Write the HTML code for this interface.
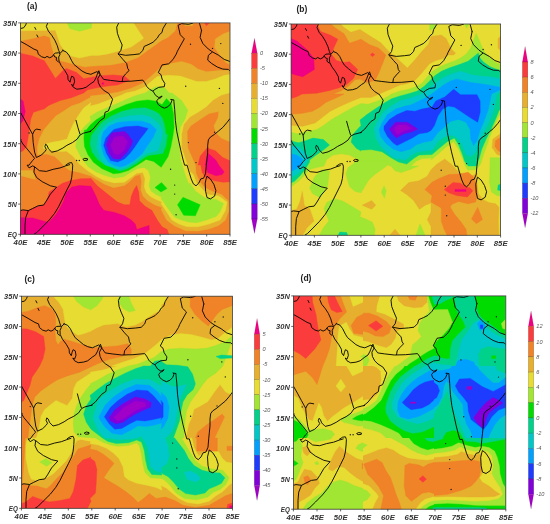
<!DOCTYPE html>
<html><head><meta charset="utf-8"><title>Figure</title>
<style>html,body{margin:0;padding:0;background:#fff}svg{display:block}
text{font-family:"Liberation Sans",sans-serif}.tk{font-size:8px;font-style:italic;font-weight:bold;fill:#333}.pl{font-size:8.5px;font-weight:bold;fill:#222}.cb{font-size:5.6px;font-style:italic;fill:#555}</style></head>
<body><svg width="550" height="524" viewBox="0 0 550 524">
<rect width="550" height="524" fill="#fff"/>
<clipPath id="clipa"><rect x="20.4" y="22.9" width="209.6" height="211.4"/></clipPath>
<g clip-path="url(#clipa)">
<rect x="20.4" y="22.9" width="209.6" height="211.4" fill="#f08228"/>
<polygon points="16.3,52.3 32.7,56.0 44.4,60.8 55.4,78.4 63.0,70.5 66.4,68.4 76.7,72.5 83.6,78.7 99.6,75.7 113.4,74.9 124.4,76.0 129.6,80.4 117.5,84.9 107.9,85.9 98.2,87.6 87.7,89.7 83.6,93.0 71.2,97.8 60.2,100.6 48.5,105.4 44.4,108.8 33.4,112.2 30.7,119.1 28.6,134.2 26.6,146.6 23.1,150.7 16.3,154.1" fill="#fa3c3c" stroke="#fa3c3c" stroke-width="0.4"/>
<polygon points="16.3,209.7 27.2,211.0 32.7,208.3 38.2,206.2 44.4,204.8 47.2,200.0 49.2,191.8 56.8,187.0 63.0,183.1 71.2,180.4 80.8,178.7 91.0,178.5 96.9,185.6 103.7,191.1 110.6,196.6 117.5,202.1 124.4,204.8 129.8,204.8 131.2,196.6 134.0,189.7 136.7,185.6 138.8,192.5 139.5,200.7 145.0,206.2 151.8,210.3 157.3,220.0 162.0,226.8 167.2,229.6 170.6,239.2 78.6,239.2 16.3,239.2" fill="#fa3c3c" stroke="#fa3c3c" stroke-width="0.4"/>
<polygon points="198.1,165.0 200.2,156.2 207.0,148.0 215.3,150.7 222.8,157.6 233.8,162.4 233.8,181.5 222.8,182.2 214.6,180.8 206.3,178.1 202.2,172.6 200.8,165.0" fill="#fa3c3c" stroke="#fa3c3c" stroke-width="0.4"/>
<polygon points="203.6,21.0 211.8,21.0 206.3,25.8" fill="#fa3c3c" stroke="#fa3c3c" stroke-width="0.4"/>
<polygon points="17.6,96.4 23.1,101.2 25.2,111.5 23.1,120.5 17.6,127.4" fill="#f00082" stroke="#f00082" stroke-width="0.4"/>
<polygon points="16.3,217.2 25.9,217.9 32.7,217.9 39.6,220.0 48.5,222.4 55.4,215.2 59.5,209.0 63.7,200.7 66.4,192.5 71.9,187.0 79.5,185.6 91.0,186.3 95.5,195.2 99.6,204.8 103.7,210.3 114.7,212.4 124.4,215.8 131.2,220.0 135.3,224.1 136.7,229.6 145.0,226.8 149.1,225.5 149.4,239.2 16.3,239.2" fill="#f00082" stroke="#f00082" stroke-width="0.4"/>
<polygon points="205.0,165.0 207.0,156.2 208.4,153.5 216.0,160.3 218.7,165.0 224.2,171.9 222.1,174.6 216.0,175.7 207.7,172.6 205.7,165.0" fill="#f00082" stroke="#f00082" stroke-width="0.4"/>
<polygon points="102.1,82.8 103.7,82.8 103.7,84.2 102.1,84.2" fill="#f00082" stroke="#f00082" stroke-width="0.4"/>
<polygon points="16.3,18.3 16.3,41.6 32.7,38.6 44.4,35.4 49.9,37.5 51.3,45.7 54.0,54.0 60.2,60.8 66.4,62.2 76.7,65.0 85.0,67.0 90.0,66.3 110.6,65.0 125.7,62.2 138.1,57.4 147.7,50.5 162.0,40.2 167.9,37.5 175.4,30.6 178.2,18.3" fill="#e6af2d" stroke="#e6af2d" stroke-width="0.4"/>
<polygon points="91.0,97.1 79.5,103.3 71.2,106.1 63.0,111.5 56.1,115.7 49.9,122.5 43.7,130.1 39.6,138.3 37.5,146.6 37.5,154.8 46.5,154.1 54.7,156.5 60.5,161.9 64.6,167.1 70.1,170.5 79.7,172.6 90.7,176.0 97.6,180.2 104.5,184.3 113.4,187.7 124.4,185.6 129.8,181.5 135.3,176.0 140.2,174.6 141.5,181.5 140.8,189.7 142.9,195.9 147.7,200.7 154.6,204.8 162.0,207.6 161.0,209.2 166.5,220.0 174.7,226.1 185.7,230.7 198.1,231.0 209.1,228.9 218.7,225.5 225.6,220.0 229.0,210.3 228.3,200.7 221.5,194.5 213.2,191.8 205.0,187.7 199.5,181.5 196.0,173.2 195.4,165.0 187.8,148.0 187.1,131.5 190.5,126.0 199.5,119.8 209.1,113.6 218.7,111.5 218.0,117.7 213.9,126.0 216.0,132.8 221.5,138.3 233.8,143.2 233.8,69.8 218.7,70.5 206.3,71.8 198.1,69.1 191.2,64.3 181.6,61.5 170.6,63.6 161.0,67.0 156.0,71.7 149.1,77.9 142.2,83.4 131.2,88.2 117.5,92.3 103.7,94.4 90.0,96.0" fill="#e6af2d" stroke="#e6af2d" stroke-width="0.4"/>
<polygon points="16.3,170.5 32.7,170.5 35.5,179.4 27.2,177.4 16.3,174.6" fill="#e6af2d" stroke="#e6af2d" stroke-width="0.4"/>
<polygon points="233.8,29.9 222.8,34.1 215.3,38.9 214.6,47.8 220.1,55.4 225.6,62.2 233.8,67.0" fill="#e6af2d" stroke="#e6af2d" stroke-width="0.4"/>
<polygon points="183.7,21.0 194.0,21.0 192.6,25.8 185.0,25.8" fill="#e6af2d" stroke="#e6af2d" stroke-width="0.4"/>
<polygon points="16.3,18.3 16.3,30.9 55.4,30.3 60.2,44.4 64.3,50.5 71.2,56.0 79.5,58.1 91.0,55.4 98.2,55.4 107.9,54.0 120.2,50.5 131.2,47.1 143.6,38.2 138.1,29.9 130.5,18.3" fill="#e6dc32" stroke="#e6dc32" stroke-width="0.4"/>
<polygon points="91.0,102.6 83.6,108.1 78.1,115.7 73.3,123.9 69.8,131.5 67.1,139.0 58.8,141.1 50.6,142.5 44.4,144.5 43.0,148.0 47.9,150.0 58.8,151.4 66.7,151.3 73.5,156.8 79.0,163.7 87.3,170.5 95.5,176.0 103.8,180.2 114.1,182.9 124.4,182.2 131.2,177.4 136.7,173.2 142.9,172.6 145.0,178.7 144.3,187.0 146.3,192.5 150.5,196.6 156.0,199.4 162.0,202.1 161.0,203.5 166.5,211.7 172.0,220.0 178.9,224.1 187.1,226.8 198.1,226.8 209.1,224.1 220.1,220.0 225.6,210.3 227.0,202.1 218.7,195.9 207.7,194.5 202.2,189.0 196.7,182.9 193.3,174.6 190.1,171.7 186.0,160.7 181.6,148.0 181.6,134.2 183.7,124.6 189.9,117.0 198.1,112.2 206.3,106.7 213.2,99.9 221.5,95.1 233.8,91.6 233.8,73.9 224.2,75.3 216.0,78.7 206.3,81.5 196.7,81.5 188.5,78.7 180.2,76.0 167.9,75.3 161.0,76.0 157.3,76.5 150.5,82.0 145.0,86.8 135.3,90.9 125.7,93.0 121.6,95.1 110.6,99.2 98.2,104.0 90.0,106.1" fill="#e6dc32" stroke="#e6dc32" stroke-width="0.4"/>
<polygon points="65.0,18.3 91.0,18.3 92.1,18.3 91.4,27.9 79.5,31.3 69.8,28.6" fill="#a0e632" stroke="#a0e632" stroke-width="0.4"/>
<polygon points="91.0,120.5 85.0,126.0 79.7,132.8 77.0,138.2 75.6,146.5 81.1,157.5 88.0,166.4 96.2,171.9 104.5,175.3 114.1,178.1 123.7,176.7 131.2,171.9 137.4,168.4 144.3,167.5 148.4,170.5 150.5,177.4 149.1,185.6 151.1,191.1 156.0,194.5 162.0,197.3 161.0,198.4 163.7,202.1 169.2,210.3 174.7,217.2 181.6,220.0 188.5,222.0 196.7,222.7 206.3,220.0 216.0,216.5 220.1,211.7 223.5,203.5 216.0,199.4 205.0,198.0 195.4,191.1 189.9,182.9 188.7,184.1 184.6,173.1 180.5,159.4 178.6,141.1 180.2,127.4 185.0,119.1 187.8,110.2 181.6,100.6 172.0,93.0 169.2,93.0 165.1,88.3 161.0,87.0 156.0,86.8 150.5,89.6 145.0,93.0 135.3,95.7 128.5,98.5 117.5,103.3 106.5,108.1 96.9,112.2 90.0,116.4" fill="#a0e632" stroke="#a0e632" stroke-width="0.4"/>
<polygon points="90.0,125.3 96.2,119.8 105.1,114.3 114.7,109.5 125.7,104.7 136.7,101.2 147.7,99.9 156.0,101.2 162.0,104.7 166.5,98.5 171.3,104.0 173.4,113.6 174.1,127.4 172.9,136.0 170.8,147.0 168.1,156.6 161.2,167.3 153.7,161.4 146.1,159.4 137.9,164.8 128.2,170.6 120.0,173.1 113.4,173.7 101.7,168.5 93.5,162.3 88.0,154.7 84.5,146.5 83.9,138.2 84.5,130.0 86.3,130.1" fill="#00dc00" stroke="#00dc00" stroke-width="0.4"/>
<polygon points="155.0,187.5 161.5,182.5 167.0,188.5 161.0,192.0" fill="#00dc00" stroke="#00dc00" stroke-width="0.4"/>
<polygon points="183.0,197.3 200.2,204.8 195.4,215.8 183.7,215.2 177.5,204.8" fill="#00dc00" stroke="#00dc00" stroke-width="0.4"/>
<polygon points="91.4,135.5 95.5,130.1 101.7,122.5 110.6,116.4 121.6,111.5 134.0,108.4 145.0,107.8 152.5,110.2 158.7,113.6 162.0,117.7 164.4,124.6 165.8,134.2 167.4,134.6 166.0,145.6 162.9,153.4 148.2,155.5 144.0,158.0 136.5,163.5 127.6,168.7 120.0,171.0 114.1,168.5 104.5,164.4 97.6,159.5 92.1,152.0 90.0,143.7" fill="#00d28c" stroke="#00d28c" stroke-width="0.4"/>
<polygon points="98.2,135.6 102.4,128.0 107.9,123.2 117.5,118.4 129.8,115.7 142.2,115.0 150.5,117.0 157.3,122.5 159.8,125.0 162.6,131.9 161.2,141.5 157.8,150.4 147.5,153.2 142.7,155.9 135.1,161.8 126.9,166.9 120.0,169.2 105.1,165.0 100.3,157.6 96.9,148.0" fill="#00c8c8" stroke="#00c8c8" stroke-width="0.4"/>
<polygon points="103.7,131.5 109.2,126.0 117.5,122.5 129.8,121.2 142.2,121.2 150.5,123.9 151.6,125.0 156.4,129.8 153.0,137.4 147.5,145.6 142.0,153.9 133.7,160.7 125.5,165.5 120.0,166.9 113.4,165.0 107.9,161.7 103.7,154.8 101.0,145.2 101.7,137.0" fill="#00a0ff" stroke="#00a0ff" stroke-width="0.4"/>
<polygon points="114.0,129.4 125.0,126.7 138.1,126.0 148.0,128.4 145.0,132.8 139.5,139.7 134.0,148.0 129.8,153.5 124.4,159.0 117.5,162.0 110.6,160.6 106.5,153.5 103.7,145.2 105.8,138.3 110.6,132.8" fill="#1e3cff" stroke="#1e3cff" stroke-width="0.4"/>
<polygon points="112.0,132.8 124.4,131.5 127.8,134.2 132.6,141.1 131.2,145.2 127.1,152.1 120.2,159.0 113.4,158.7 109.2,153.5 106.5,144.5 109.2,137.0" fill="#8200dc" stroke="#8200dc" stroke-width="0.4"/>
<polygon points="114.7,137.0 123.0,135.9 127.8,141.8 123.7,150.7 118.2,154.8 114.0,153.5 110.6,145.2" fill="#a000c8" stroke="#a000c8" stroke-width="0.4"/>
</g>
<clipPath id="clipb"><rect x="291.1" y="24" width="209.5" height="211.3"/></clipPath>
<g clip-path="url(#clipb)">
<rect x="291.1" y="24" width="209.5" height="211.3" fill="#e6dc32"/>
<polygon points="286.3,11.6 286.3,124.9 302.7,126.3 315.1,122.9 320.6,118.7 330.2,111.2 339.8,106.4 350.8,101.6 361.0,97.4 371.0,97.4 379.2,94.0 390.2,89.3 400.0,84.9 406.4,83.8 414.1,81.2 418.5,76.8 425.1,69.1 429.4,63.8 435.9,60.5 443.6,58.3 448.0,55.0 453.7,55.0 455.5,52.9 451.6,49.5 449.5,45.4 446.1,38.5 441.3,35.1 431.0,36.4 428.7,44.0 421.8,51.5 415.0,59.8 407.4,68.0 397.1,58.4 388.9,51.5 380.6,42.6 369.6,35.7 360.0,29.6 350.8,32.3 344.0,27.5 336.4,19.3" fill="#e6af2d" stroke="#e6af2d" stroke-width="0.4"/>
<polygon points="286.3,19.3 325.4,19.3 335.7,28.2 344.0,33.7 349.5,43.3 361.0,39.2 369.6,44.7 378.5,48.1 385.8,55.0 382.7,63.2 378.5,73.5 375.1,80.4 366.9,82.5 360.0,79.0 355.0,79.7 348.1,86.6 341.2,90.7 333.0,94.0 344.0,94.0 335.7,98.1 326.1,102.2 319.9,107.1 312.4,111.2 302.7,113.2 286.3,114.6" fill="#f08228" stroke="#f08228" stroke-width="0.4"/>
<polygon points="286.3,19.3 314.4,19.3 320.6,31.6 330.2,35.1 337.8,39.2 333.7,48.1 331.3,54.3 336.4,60.5 344.0,62.5 349.5,61.8 357.7,69.4 353.6,78.3 346.7,84.5 338.5,88.0 328.8,90.7 316.5,93.2 302.1,94.0 296.6,96.7 286.3,100.2" fill="#fa3c3c" stroke="#fa3c3c" stroke-width="0.4"/>
<polygon points="286.3,36.4 297.2,41.2 307.5,50.2 313.7,58.4 314.4,69.4 302.7,76.7 295.9,74.9 286.3,72.2" fill="#f00082" stroke="#f00082" stroke-width="0.4"/>
<polygon points="370.3,54.7 372.4,52.9 374.8,54.7 372.4,56.6" fill="#fa3c3c" stroke="#fa3c3c" stroke-width="0.4"/>
<polygon points="400.5,190.5 408.8,182.5 419.1,180.8 427.3,176.3 431.0,169.8 436.5,164.4 444.7,159.1 451.6,164.4 457.8,171.2 464.7,175.3 472.2,175.8 477.0,173.3 477.0,182.5 478.4,193.5 483.2,199.7 488.7,202.4 495.6,203.8 499.0,207.2 498.3,221.0 499.0,240.2 431.0,240.2 431.0,226.5 427.3,219.6 431.0,212.0 431.0,203.1 425.3,205.2 419.4,209.3 413.6,200.4 406.7,194.6" fill="#e6af2d" stroke="#e6af2d" stroke-width="0.4"/>
<polygon points="362.1,205.2 371.7,200.4 375.8,205.2 371.7,209.3" fill="#e6af2d" stroke="#e6af2d" stroke-width="0.4"/>
<polygon points="385.4,240.2 395.0,229.2 404.0,240.2" fill="#e6af2d" stroke="#e6af2d" stroke-width="0.4"/>
<polygon points="286.3,212.0 296.6,209.3 300.0,201.7 302.3,191.4 304.4,205.8 309.6,208.6 314.0,221.0 306.9,227.8 300.0,240.2 286.3,240.2" fill="#e6af2d" stroke="#e6af2d" stroke-width="0.4"/>
<polygon points="503.8,33.7 498.1,38.5 498.1,48.1 503.8,54.3" fill="#e6af2d" stroke="#e6af2d" stroke-width="0.4"/>
<polygon points="503.8,131.1 492.8,139.3 492.1,147.6 497.0,154.5 503.8,156.5" fill="#e6af2d" stroke="#e6af2d" stroke-width="0.4"/>
<polygon points="503.8,135.2 495.6,140.7 494.9,146.2 498.3,151.0 503.8,152.4" fill="#f08228" stroke="#f08228" stroke-width="0.4"/>
<polygon points="424.9,189.6 432.0,182.2 439.2,178.4 448.9,174.5 459.9,174.0 468.1,172.2 472.9,176.3 476.3,183.9 477.4,193.5 475.7,202.0 468.1,203.8 458.5,201.4 451.6,204.5 450.2,207.2 454.4,214.1 461.2,222.3 466.0,229.2 467.8,240.2 449.5,240.2 444.1,229.2 441.3,221.0 441.3,207.9 436.5,205.2 431.0,202.0 432.0,195.5" fill="#f08228" stroke="#f08228" stroke-width="0.4"/>
<polygon points="477.7,207.2 482.5,219.6 476.3,223.7 471.5,218.9" fill="#f08228" stroke="#f08228" stroke-width="0.4"/>
<polygon points="444.1,189.6 453.0,182.5 460.5,183.2 465.4,186.6 470.2,188.0 472.9,190.7 467.4,196.9 456.4,195.5 448.9,192.8" fill="#fa3c3c" stroke="#fa3c3c" stroke-width="0.4"/>
<polygon points="455.0,189.4 466.0,189.4 466.0,191.4 455.0,191.4" fill="#f00082" stroke="#f00082" stroke-width="0.4"/>
<polygon points="286.3,131.1 297.2,133.8 306.9,131.8 316.5,129.7 323.4,125.6 331.6,119.4 342.6,113.2 352.2,107.7 361.0,103.6 368.2,104.3 377.9,100.9 387.5,96.7 391.6,94.0 400.0,91.0 408.6,89.3 416.3,86.6 421.8,83.4 427.3,76.8 432.6,71.3 439.2,66.9 446.9,63.8 454.5,61.0 460.5,58.0 466.0,54.3 470.8,48.1 473.6,39.9 476.1,33.3 479.1,39.9 482.1,47.4 485.3,52.9 491.5,59.1 497.0,63.2 503.8,64.9 503.8,107.7 497.0,120.1 492.8,129.7 488.7,139.3 488.0,142.4 483.9,153.4 480.7,163.7 476.3,169.6 467.8,170.1 465.4,166.0 462.6,158.6 458.5,149.0 453.7,141.4 446.1,146.9 439.2,153.1 431.0,160.0 432.0,157.9 421.8,158.6 416.3,161.3 410.8,166.0 418.4,166.0 410.2,169.4 401.2,172.6 395.0,170.8 390.9,166.0 390.2,166.0 384.7,164.1 373.7,162.0 360.0,162.7 356.3,158.6 349.5,155.1 341.2,153.8 333.0,155.1 326.8,159.3 324.0,166.0 316.5,167.5 309.6,169.5 304.1,175.7 298.6,181.2 286.3,190.2" fill="#a0e632" stroke="#a0e632" stroke-width="0.4"/>
<polygon points="309.6,188.1 314.4,177.1 322.0,169.5 329.5,170.9 327.5,186.7 319.9,197.7 312.4,193.6" fill="#a0e632" stroke="#a0e632" stroke-width="0.4"/>
<polygon points="353.6,163.6 348.1,167.5 346.0,173.7 346.7,177.0 349.5,186.6 355.0,191.4 361.0,192.8 364.8,186.6 368.9,179.7 375.1,174.2 384.0,168.1 386.8,166.0 386.8,161.3 354.5,161.3" fill="#a0e632" stroke="#a0e632" stroke-width="0.4"/>
<polygon points="316.5,240.2 323.4,227.8 328.8,221.0 324.0,208.6 326.8,202.4 334.3,198.7 342.6,201.0 350.8,205.8 361.0,212.0 360.0,216.8 365.5,218.9 372.4,222.3 375.1,229.2 373.7,240.2" fill="#a0e632" stroke="#a0e632" stroke-width="0.4"/>
<polygon points="384.0,185.9 386.1,190.7 384.5,198.3 381.3,192.1" fill="#a0e632" stroke="#a0e632" stroke-width="0.4"/>
<polygon points="414.3,240.2 420.0,224.0 427.3,240.2" fill="#a0e632" stroke="#a0e632" stroke-width="0.4"/>
<polygon points="490.1,157.8 503.8,157.8 503.8,196.2 497.0,195.5 491.5,192.1 489.4,182.5 489.8,172.9" fill="#a0e632" stroke="#a0e632" stroke-width="0.4"/>
<polygon points="429.6,19.3 437.2,19.3 435.1,28.2 429.6,30.2" fill="#a0e632" stroke="#a0e632" stroke-width="0.4"/>
<polygon points="463.3,22.0 470.2,22.0 466.7,28.2" fill="#a0e632" stroke="#a0e632" stroke-width="0.4"/>
<polygon points="503.8,71.1 497.0,69.4 490.1,66.7 483.2,61.8 479.8,57.7 478.4,52.9 475.0,55.7 468.1,61.2 460.0,64.3 449.1,68.0 441.4,71.3 434.8,75.7 429.4,81.2 424.0,86.6 417.4,91.0 408.6,93.7 400.0,95.9 391.6,98.8 383.4,103.6 375.1,109.1 366.9,114.6 360.0,120.1 361.0,125.6 357.7,129.0 352.9,134.5 351.1,142.1 356.3,148.3 361.0,151.0 360.0,150.3 371.0,149.6 382.0,151.7 390.2,157.2 398.5,162.0 406.7,164.1 413.6,158.6 419.1,155.1 432.0,154.5 439.2,148.3 447.5,141.4 454.4,138.0 458.5,144.8 461.9,153.1 464.7,161.3 468.1,166.0 476.3,166.0 479.1,158.6 481.8,149.0 486.0,139.3 491.5,128.4 496.3,117.4 499.0,110.5 503.8,106.4" fill="#00d28c" stroke="#00d28c" stroke-width="0.4"/>
<polygon points="286.3,140.0 298.6,142.8 305.5,140.7 313.0,138.0 323.4,139.6 329.5,145.1 322.0,151.0 315.1,155.8 309.6,160.0 309.6,162.0 305.5,168.9 300.0,175.7 294.5,181.2 286.3,185.3" fill="#00d28c" stroke="#00d28c" stroke-width="0.4"/>
<polygon points="335.7,240.2 339.8,232.0 346.7,232.6 349.5,240.2" fill="#00d28c" stroke="#00d28c" stroke-width="0.4"/>
<polygon points="503.8,182.5 498.1,185.2 497.6,190.0 503.8,191.4" fill="#00d28c" stroke="#00d28c" stroke-width="0.4"/>
<polygon points="503.8,79.7 491.5,77.0 481.8,76.3 472.2,74.9 465.4,72.8 460.0,71.3 454.5,73.0 446.9,75.7 440.3,79.6 433.7,84.4 427.3,89.9 419.6,94.8 410.8,98.1 400.0,100.7 391.6,105.7 383.4,111.9 377.9,120.8 374.4,128.4 375.8,138.0 380.6,146.2 387.5,153.1 394.4,157.9 405.3,160.0 412.2,154.5 417.7,151.7 432.0,150.3 437.9,141.4 446.1,135.9 453.0,135.2 458.5,139.3 462.6,146.2 466.0,154.5 470.8,156.5 476.3,151.7 479.1,142.1 483.2,133.8 488.7,122.9 492.8,113.2 495.6,102.2 497.0,94.0 503.8,91.3" fill="#00c8c8" stroke="#00c8c8" stroke-width="0.4"/>
<polygon points="286.3,145.5 298.6,146.9 305.5,153.1 308.2,159.2 304.1,166.1 298.6,173.0 286.3,180.5" fill="#00c8c8" stroke="#00c8c8" stroke-width="0.4"/>
<polygon points="503.8,88.0 490.1,85.2 480.5,83.8 470.8,82.5 462.6,80.4 456.7,79.0 450.2,81.2 443.6,84.9 437.0,89.9 430.5,94.8 421.8,99.8 410.8,105.0 405.3,106.1 395.7,109.1 387.5,114.6 382.0,122.9 379.2,129.7 380.6,136.6 386.1,143.5 393.0,149.0 401.2,151.7 410.8,149.0 416.3,144.8 424.6,142.1 432.0,140.7 437.9,132.5 444.7,127.0 450.2,121.5 458.5,119.4 466.0,122.2 470.2,129.7 470.8,139.3 473.6,145.5 477.0,140.7 479.8,131.1 483.9,121.5 488.0,110.5 490.1,100.9 491.5,94.0" fill="#00a0ff" stroke="#00a0ff" stroke-width="0.4"/>
<polygon points="286.3,153.1 296.6,155.1 302.7,159.2 301.4,164.0 296.6,168.9 286.3,173.0" fill="#00a0ff" stroke="#00a0ff" stroke-width="0.4"/>
<polygon points="384.0,126.3 389.5,119.4 397.1,114.6 406.7,110.5 415.0,111.2 421.8,109.1 432.0,107.1 435.8,100.9 444.7,97.0 453.7,89.3 460.5,94.7 477.0,94.7 480.1,100.9 480.2,111.9 477.7,122.2 470.8,118.0 462.6,112.5 454.4,107.1 448.2,106.1 442.7,109.1 437.9,116.0 434.4,125.6 431.0,130.4 427.3,132.5 419.1,133.8 412.2,138.0 404.0,142.1 397.1,145.5 393.0,142.8 387.5,136.6 384.0,129.7" fill="#1e3cff" stroke="#1e3cff" stroke-width="0.4"/>
<polygon points="389.5,129.0 395.7,122.2 407.4,122.2 417.7,129.0 412.2,131.8 404.0,133.8 396.4,138.0 392.3,133.8" fill="#8200dc" stroke="#8200dc" stroke-width="0.4"/>
<polygon points="394.4,128.4 397.8,124.9 406.0,124.9 411.5,128.6 404.0,131.1 397.1,134.5" fill="#a000c8" stroke="#a000c8" stroke-width="0.4"/>
</g>
<clipPath id="clipc"><rect x="21.4" y="296.2" width="211.1" height="212.10000000000002"/></clipPath>
<g clip-path="url(#clipc)">
<rect x="21.4" y="296.2" width="211.1" height="212.10000000000002" fill="#e6af2d"/>
<polygon points="16.3,313.2 28.6,311.2 36.9,307.7 44.4,305.7 51.3,308.4 55.0,313.2 55.8,321.5 55.0,332.5 55.8,340.7 58.2,345.1 60.2,341.4 64.3,339.3 74.0,342.1 82.2,344.8 91.0,346.9 90.0,348.3 103.7,346.9 117.5,345.9 127.8,343.7 131.2,349.0 131.2,353.4 121.6,356.5 109.2,359.3 98.2,363.4 79.5,372.2 67.1,375.9 57.5,379.7 49.9,384.5 41.0,390.7 34.8,396.9 32.1,405.8 30.7,415.5 29.3,426.5 27.9,438.0 25.2,438.0 24.5,451.7 23.1,472.4 22.4,483.3 27.2,485.4 36.9,486.1 46.5,488.8 50.6,485.4 56.1,479.2 63.0,472.4 68.5,464.1 74.0,455.9 78.1,449.0 91.0,444.9 90.0,449.0 96.9,450.4 103.7,454.5 110.6,460.0 114.0,463.4 109.2,469.6 103.7,477.8 110.6,482.0 117.5,486.1 125.7,491.6 132.6,497.1 138.1,502.6 143.6,498.5 149.4,493.6 156.0,498.5 165.1,497.1 174.7,500.5 183.0,505.3 195.4,507.4 209.1,505.3 218.7,499.8 225.6,495.7 233.8,493.0 233.8,512.2 16.3,512.2" fill="#f08228" stroke="#f08228" stroke-width="0.4"/>
<polygon points="190.5,291.3 190.1,306.4 194.7,313.9 201.5,320.8 208.4,325.9 212.1,320.8 216.6,314.6 222.1,309.4 233.8,305.0 233.8,291.3" fill="#f08228" stroke="#f08228" stroke-width="0.4"/>
<polygon points="222.1,414.1 224.5,417.1 219.4,427.8 214.6,438.0 217.3,438.0 217.3,451.1 196.7,451.1 196.7,438.0 195.4,438.0 197.8,432.0 206.3,425.1 215.3,418.9" fill="#f08228" stroke="#f08228" stroke-width="0.4"/>
<polygon points="227.0,446.2 233.8,446.2 233.8,450.4 227.0,450.4" fill="#f08228" stroke="#f08228" stroke-width="0.4"/>
<polygon points="16.3,328.4 27.2,329.0 35.5,331.8 43.7,336.6 45.1,349.0 43.0,358.6 39.6,366.0 35.5,372.2 32.1,377.0 30.0,385.2 26.6,393.5 23.8,400.4 16.3,405.8" fill="#fa3c3c" stroke="#fa3c3c" stroke-width="0.4"/>
<polygon points="16.3,505.3 25.9,501.9 32.7,496.4 39.6,499.1 49.2,501.9 60.2,500.5 69.8,498.5 73.3,491.6 76.0,479.2 77.4,465.5 82.9,460.0 91.0,457.2 90.0,457.9 94.8,461.4 96.9,469.6 96.2,483.3 95.5,493.0 90.0,498.5 91.0,501.2 85.6,512.2 16.3,512.2" fill="#fa3c3c" stroke="#fa3c3c" stroke-width="0.4"/>
<polygon points="227.6,504.6 233.8,502.6 233.8,512.2 226.3,512.2" fill="#fa3c3c" stroke="#fa3c3c" stroke-width="0.4"/>
<polygon points="229.7,506.3 233.8,505.3 233.8,512.2 230.1,512.2" fill="#f00082" stroke="#f00082" stroke-width="0.4"/>
<polygon points="48.5,291.3 58.8,302.2 63.0,309.1 64.3,317.4 65.7,325.6 71.2,331.1 78.1,335.2 83.6,333.8 91.0,331.1 90.0,331.4 96.9,327.7 103.7,324.9 117.5,323.5 125.7,327.0 135.3,324.9 142.2,321.5 147.7,317.4 154.6,313.2 162.0,309.4 161.0,305.0 165.1,302.2 168.6,291.3" fill="#e6dc32" stroke="#e6dc32" stroke-width="0.4"/>
<polygon points="91.0,372.9 83.6,377.7 76.7,382.2 73.7,388.7 72.3,398.3 67.1,405.4 60.2,402.4 56.1,400.4 49.9,405.2 44.4,409.7 41.0,416.2 39.6,425.1 38.2,432.0 36.2,438.0 29.3,438.0 26.6,440.7 25.9,446.2 25.9,458.6 28.6,472.4 31.4,479.2 36.9,480.6 46.5,477.8 53.4,473.7 58.8,468.2 65.7,461.4 71.2,453.1 74.0,446.2 76.7,440.7 80.8,439.4 91.0,441.4 90.0,443.5 98.2,444.9 106.5,448.3 113.4,453.1 118.9,458.6 123.0,466.9 124.4,476.5 128.5,479.9 136.7,483.3 147.7,485.4 156.0,487.5 162.0,490.2 161.0,485.4 166.5,488.2 172.0,493.0 178.9,498.5 187.1,502.6 198.1,504.0 209.1,501.2 216.0,495.7 222.8,491.6 229.7,484.7 233.8,482.0 233.8,463.4 226.3,462.0 222.1,457.9 218.7,451.7 207.0,451.7 203.6,453.1 198.8,455.9 194.0,447.6 191.9,438.0 186.4,438.0 187.1,432.0 188.5,424.4 191.9,417.5 194.0,409.3 199.5,406.5 207.7,401.7 213.9,392.8 220.1,384.5 225.6,392.1 233.8,395.5 233.8,326.3 224.2,333.2 218.7,338.0 211.8,340.0 202.2,337.3 191.2,334.5 180.2,333.6 170.6,335.2 161.0,340.0 156.0,344.8 149.1,350.3 143.6,354.5 134.0,358.6 123.0,362.0 112.0,366.0 117.5,366.0 102.4,370.1 90.0,372.2" fill="#e6dc32" stroke="#e6dc32" stroke-width="0.4"/>
<polygon points="70.5,291.3 76.7,301.6 83.6,307.1 91.0,309.8 90.0,310.2 96.9,305.7 102.4,298.8 103.7,291.3" fill="#a0e632" stroke="#a0e632" stroke-width="0.4"/>
<polygon points="118.9,291.3 127.1,291.3 131.2,302.9 135.3,310.5 129.2,312.1 123.0,308.4 119.1,302.2" fill="#a0e632" stroke="#a0e632" stroke-width="0.4"/>
<polygon points="39.6,462.0 45.8,458.6 52.0,462.7 46.5,466.2" fill="#a0e632" stroke="#a0e632" stroke-width="0.4"/>
<polygon points="91.0,383.9 86.3,389.4 80.8,397.6 76.7,405.8 74.0,414.1 73.3,423.7 74.0,432.0 78.1,436.8 95.5,438.0 102.4,442.1 110.6,444.9 117.5,446.2 128.5,445.6 136.7,442.8 139.5,446.2 141.5,454.5 142.9,464.1 145.0,472.4 150.5,477.8 162.0,478.5 161.0,477.8 165.1,480.6 170.6,486.1 176.1,493.0 184.4,498.5 196.7,499.8 207.7,497.1 213.2,492.3 220.1,489.5 225.6,484.7 229.0,477.8 222.8,470.3 211.8,468.9 202.2,466.2 195.4,460.7 190.5,453.1 185.7,444.9 181.6,438.0 183.7,438.0 184.4,430.6 185.0,421.0 186.4,411.3 190.5,401.7 196.7,393.5 202.2,385.2 207.7,378.4 216.0,372.9 222.8,366.0 227.0,354.5 233.8,335.2 224.2,342.1 216.0,345.5 206.3,348.3 195.4,349.0 181.6,348.3 169.2,349.0 161.0,351.7 154.6,357.2 147.7,360.0 138.1,364.1 128.5,366.0 118.9,369.4 107.9,374.2 98.2,379.7 90.0,383.9" fill="#a0e632" stroke="#a0e632" stroke-width="0.4"/>
<polygon points="83.6,414.1 86.3,405.8 91.0,399.0 90.0,395.5 96.9,390.0 105.1,383.9 114.7,378.4 125.7,372.9 135.3,368.7 143.6,366.0 150.5,366.0 154.6,361.3 162.0,360.0 161.0,361.3 166.5,364.8 177.5,365.3 187.8,366.7 192.6,374.2 195.4,383.9 193.3,389.4 187.1,394.9 183.0,401.7 180.9,411.3 179.5,421.0 176.1,430.6 173.4,438.0 174.7,438.0 178.9,443.5 184.4,450.4 188.5,458.6 194.0,465.5 202.2,470.3 211.8,472.4 220.1,473.0 224.9,477.8 221.5,483.3 216.0,486.1 209.1,488.8 205.0,493.0 195.4,495.0 185.7,493.6 178.9,488.8 173.4,482.0 167.9,476.5 161.0,473.0 162.0,475.1 151.8,474.4 147.7,468.9 145.6,460.0 144.3,450.4 141.5,442.1 136.7,440.1 128.5,442.8 116.1,443.5 107.9,441.4 102.4,438.0 91.0,429.2 86.3,422.3" fill="#00d28c" stroke="#00d28c" stroke-width="0.4"/>
<polygon points="216.0,356.5 221.5,355.1 233.8,355.8 233.8,357.9 220.1,358.6" fill="#00d28c" stroke="#00d28c" stroke-width="0.4"/>
<polygon points="93.4,416.8 98.2,400.4 107.9,392.1 121.6,383.9 135.3,379.1 150.5,379.7 162.0,386.6 161.0,381.1 172.0,386.6 178.9,386.6 186.4,384.5 181.6,394.9 178.2,403.1 176.8,414.1 174.7,425.1 170.6,433.3 165.1,438.0 165.1,438.0 167.9,446.2 169.2,455.9 166.5,464.1 161.0,467.5 162.0,472.1 155.3,471.0 150.5,466.2 149.1,457.2 147.7,447.6 144.3,440.7 141.1,435.9 137.4,438.0 129.8,439.1 117.5,439.6 107.9,438.0 105.1,438.0 98.2,430.6 94.1,421.0" fill="#00c8c8" stroke="#00c8c8" stroke-width="0.4"/>
<polygon points="184.4,472.4 190.5,471.0 198.1,475.1 200.2,479.2 195.4,482.0 187.1,479.2" fill="#00c8c8" stroke="#00c8c8" stroke-width="0.4"/>
<polygon points="98.9,416.8 105.1,405.2 113.4,396.9 124.4,389.4 136.0,384.5 149.1,385.2 157.3,391.4 162.0,396.9 161.0,392.1 166.5,397.6 169.2,407.2 167.9,418.2 163.7,426.5 161.0,429.2 162.0,423.0 154.6,425.1 146.3,426.5 138.1,425.8 131.2,429.9 121.6,434.7 112.0,433.3 104.4,426.5 99.6,418.9" fill="#00a0ff" stroke="#00a0ff" stroke-width="0.4"/>
<polygon points="104.4,416.8 110.6,407.2 117.5,401.0 127.1,394.2 136.7,390.0 147.7,390.7 153.2,395.5 158.7,401.7 162.0,405.8 161.0,400.4 163.1,403.1 163.1,416.8 161.0,419.6 162.0,417.5 153.2,419.6 145.0,421.0 136.7,420.3 129.8,423.7 121.6,428.5 114.7,429.2 109.2,423.7" fill="#1e3cff" stroke="#1e3cff" stroke-width="0.4"/>
<polygon points="109.2,417.5 114.7,410.0 123.0,403.8 135.3,396.9 145.0,399.0 151.1,402.4 150.5,407.2 142.2,410.7 135.3,414.1 128.5,418.2 123.0,422.3 116.1,423.7 110.6,421.0" fill="#8200dc" stroke="#8200dc" stroke-width="0.4"/>
<polygon points="114.0,417.5 124.4,407.2 135.3,401.0 145.0,402.4 146.3,405.8 135.3,410.7 124.4,418.2 117.5,421.0" fill="#a000c8" stroke="#a000c8" stroke-width="0.4"/>
</g>
<clipPath id="clipd0"><rect x="293.4" y="295.9" width="70.60" height="70.10"/></clipPath>
<g clip-path="url(#clipd0)">
<rect x="293.4" y="295.9" width="70.60" height="70.10" fill="#f08228"/>
<polygon points="289.3,291.3 311.9,291.3 312.6,302.2 316.0,314.6 318.1,328.4 320.9,340.0 314.7,349.0 305.7,358.6 299.6,353.8 289.3,348.3" fill="#fa3c3c" stroke="#fa3c3c" stroke-width="0.4"/>
<polygon points="327.0,291.3 332.5,291.3 338.0,303.6 342.2,311.6 336.7,312.5 331.2,309.8 328.4,302.2" fill="#fa3c3c" stroke="#fa3c3c" stroke-width="0.4"/>
<polygon points="339.4,291.3 344.2,305.0 347.0,311.9 340.1,318.7 334.6,327.0 331.8,338.0 329.8,349.0 326.4,358.6 322.2,368.2 366.2,368.2 366.2,291.3" fill="#e6af2d" stroke="#e6af2d" stroke-width="0.4"/>
<polygon points="348.3,291.3 353.1,306.4 366.2,300.9 366.2,291.3" fill="#e6dc32" stroke="#e6dc32" stroke-width="0.4"/>
<polygon points="366.2,312.5 356.6,317.4 351.1,325.6 353.8,333.2 366.2,334.8" fill="#f08228" stroke="#f08228" stroke-width="0.4"/>
<polygon points="339.4,326.3 346.3,322.2 349.7,329.0 353.8,335.2 366.2,338.2 366.2,368.2 336.0,368.2 337.3,349.0 338.0,335.2" fill="#e6dc32" stroke="#e6dc32" stroke-width="0.4"/>
<polygon points="366.2,353.1 360.7,356.5 366.2,359.3" fill="#a0e632" stroke="#a0e632" stroke-width="0.4"/>
</g>
<clipPath id="clipd1"><rect x="363" y="295.9" width="72.00" height="70.10"/></clipPath>
<g clip-path="url(#clipd1)">
<rect x="363" y="295.9" width="72.00" height="70.10" fill="#e6dc32"/>
<polygon points="360.3,291.3 380.9,291.3 376.7,305.7 376.1,311.9 385.0,314.6 394.6,319.4 403.5,324.2 403.5,327.7 396.7,331.1 395.3,338.0 391.2,344.2 386.4,347.6 376.7,344.8 368.5,341.4 360.3,340.0" fill="#e6af2d" stroke="#e6af2d" stroke-width="0.4"/>
<polygon points="360.3,313.2 369.2,313.2 377.4,316.0 386.4,321.5 391.2,327.0 389.1,333.2 382.9,336.6 375.4,335.9 368.5,332.5 360.3,330.4" fill="#f08228" stroke="#f08228" stroke-width="0.4"/>
<polygon points="368.5,325.6 376.1,320.8 382.9,326.3 376.1,331.1" fill="#fa3c3c" stroke="#fa3c3c" stroke-width="0.4"/>
<polygon points="395.3,291.3 398.7,300.9 404.2,305.7 413.8,307.7 422.1,307.1 426.9,302.2 427.6,291.3" fill="#e6af2d" stroke="#e6af2d" stroke-width="0.4"/>
<polygon points="405.6,291.3 409.7,299.5 415.2,300.2 419.3,291.3" fill="#f08228" stroke="#f08228" stroke-width="0.4"/>
<polygon points="426.5,291.3 427.9,302.2 429.6,311.2 424.1,316.7 419.6,323.5 418.0,330.4 421.4,336.6 416.6,341.4 412.5,344.8 411.4,350.3 410.4,356.1 404.2,360.5 396.7,366.0 393.2,368.9 437.2,368.9 437.2,291.3" fill="#a0e632" stroke="#a0e632" stroke-width="0.4"/>
<polygon points="427.3,291.3 430.6,302.2 433.3,308.4 437.2,309.1 437.2,291.3" fill="#00dc00" stroke="#00dc00" stroke-width="0.4"/>
<polygon points="430.3,291.3 434.4,304.3 437.2,304.7 437.2,291.3" fill="#00d28c" stroke="#00d28c" stroke-width="0.4"/>
<polygon points="437.2,346.9 427.6,352.0 422.1,355.4 416.6,359.5 409.7,363.7 404.2,368.9 437.2,368.9" fill="#00dc00" stroke="#00dc00" stroke-width="0.4"/>
<polygon points="437.2,354.5 431.7,356.8 426.2,359.5 420.7,363.0 413.8,367.1 411.8,368.9 437.2,368.9" fill="#00d28c" stroke="#00d28c" stroke-width="0.4"/>
<polygon points="437.2,361.3 430.3,363.7 423.5,367.5 422.1,368.9 437.2,368.9" fill="#00c8c8" stroke="#00c8c8" stroke-width="0.4"/>
<polygon points="360.3,353.1 367.1,355.8 369.2,360.0 365.7,368.2 360.3,368.2" fill="#a0e632" stroke="#a0e632" stroke-width="0.4"/>
</g>
<clipPath id="clipd2"><rect x="434" y="295.9" width="71.80" height="70.10"/></clipPath>
<g clip-path="url(#clipd2)">
<rect x="434" y="295.9" width="71.80" height="70.10" fill="#00dc00"/>
<polygon points="431.3,309.8 447.7,309.4 452.5,322.2 448.4,329.0 441.6,336.6 436.7,340.7 431.3,349.0" fill="#a0e632" stroke="#a0e632" stroke-width="0.4"/>
<polygon points="431.3,291.3 454.6,291.3 453.0,297.4 446.1,300.2 440.6,303.6 434.4,304.3 431.3,304.3" fill="#00d28c" stroke="#00d28c" stroke-width="0.4"/>
<polygon points="453.9,291.3 455.3,305.0 458.0,313.2 463.5,321.5 465.6,327.0 458.7,333.8 452.5,340.7 450.5,349.0 449.8,358.6 446.4,368.2 508.2,368.2 508.2,337.3 502.7,333.8 495.8,328.4 489.0,323.5 482.1,318.7 478.0,313.2 475.9,305.0 475.2,291.3" fill="#00d28c" stroke="#00d28c" stroke-width="0.4"/>
<polygon points="473.2,323.5 478.0,320.1 481.4,318.7 487.6,328.4 494.5,333.8 502.7,338.0 508.2,340.7 508.2,349.0 495.8,347.6 487.6,346.2 480.7,349.0 478.0,354.5 479.3,368.2 454.6,368.2 457.4,357.2 459.4,347.6 462.2,339.3 467.7,331.8" fill="#00c8c8" stroke="#00c8c8" stroke-width="0.4"/>
<polygon points="431.3,355.4 436.7,356.1 442.2,358.2 447.7,358.9 449.8,358.6 446.4,368.2 431.3,368.2" fill="#00d28c" stroke="#00d28c" stroke-width="0.4"/>
<polygon points="431.3,362.7 443.6,365.0 450.5,365.0 454.6,368.9 431.3,368.9" fill="#00c8c8" stroke="#00c8c8" stroke-width="0.4"/>
<polygon points="477.3,323.5 480.7,320.1 484.8,324.9 484.2,329.0 480.0,330.4" fill="#00a0ff" stroke="#00a0ff" stroke-width="0.4"/>
<polygon points="480.4,324.9 482.8,324.9 482.8,328.4 480.4,328.4" fill="#1e3cff" stroke="#1e3cff" stroke-width="0.4"/>
<polygon points="454.6,368.2 458.0,360.6 465.6,359.3 473.8,362.0 476.6,368.2" fill="#00a0ff" stroke="#00a0ff" stroke-width="0.4"/>
<polygon points="508.2,316.7 501.3,323.5 502.7,328.4 508.2,330.0" fill="#a0e632" stroke="#a0e632" stroke-width="0.4"/>
<polygon points="491.7,355.8 495.8,355.8 495.8,358.6 491.7,358.6" fill="#00dc00" stroke="#00dc00" stroke-width="0.4"/>
</g>
<clipPath id="clipd3"><rect x="293.4" y="366" width="70.60" height="72.00"/></clipPath>
<g clip-path="url(#clipd3)">
<rect x="293.4" y="366" width="70.60" height="72.00" fill="#e6af2d"/>
<polygon points="289.3,363.3 323.6,363.3 320.2,374.2 317.0,384.5 312.6,377.7 305.7,371.2 299.6,372.9 289.3,376.3" fill="#f08228" stroke="#f08228" stroke-width="0.4"/>
<polygon points="344.9,363.3 352.5,375.9 366.2,369.8 366.2,363.3" fill="#e6dc32" stroke="#e6dc32" stroke-width="0.4"/>
<polygon points="336.0,385.9 340.8,379.1 345.6,386.6 340.8,392.1" fill="#e6dc32" stroke="#e6dc32" stroke-width="0.4"/>
<polygon points="289.3,392.8 298.2,398.3 301.6,407.2 305.1,413.4 308.5,419.6 312.6,421.0 315.4,412.7 318.8,403.1 321.5,407.2 323.6,415.5 327.4,421.2 332.5,416.6 338.0,412.4 343.5,408.3 350.4,404.2 357.3,400.1 366.2,394.2 366.2,440.2 289.3,440.2" fill="#e6dc32" stroke="#e6dc32" stroke-width="0.4"/>
<polygon points="366.2,409.3 353.8,413.7 347.0,415.7 340.1,419.9 344.2,422.6 351.1,424.0 358.0,426.0 366.2,425.8" fill="#a0e632" stroke="#a0e632" stroke-width="0.4"/>
<polygon points="305.7,431.1 314.0,429.5 323.6,428.8 331.8,430.9 334.6,434.3 330.5,439.1 323.6,440.9 305.7,440.9" fill="#a0e632" stroke="#a0e632" stroke-width="0.4"/>
<polygon points="289.3,412.7 300.2,420.3 305.7,426.5 309.9,431.3 308.5,440.2 289.3,440.2" fill="#a0e632" stroke="#a0e632" stroke-width="0.4"/>
<polygon points="289.3,417.9 299.6,423.0 305.1,429.9 308.2,434.7 305.1,440.2 289.3,440.2" fill="#00dc00" stroke="#00dc00" stroke-width="0.4"/>
<polygon points="366.2,412.7 356.6,416.2 352.5,418.9 358.0,420.3 366.2,421.2" fill="#00dc00" stroke="#00dc00" stroke-width="0.4"/>
</g>
<clipPath id="clipd4"><rect x="363" y="366" width="72.00" height="72.00"/></clipPath>
<g clip-path="url(#clipd4)">
<rect x="363" y="366" width="72.00" height="72.00" fill="#00dc00"/>
<polygon points="406.3,363.3 402.8,368.5 396.0,374.0 390.5,380.8 385.7,390.5 380.9,400.4 374.0,407.2 365.7,413.4 360.3,415.5 360.3,363.3" fill="#a0e632" stroke="#a0e632" stroke-width="0.4"/>
<polygon points="396.7,363.3 389.8,372.6 385.0,380.8 380.2,391.8 376.1,400.4 369.2,405.8 360.3,409.7 360.3,363.3" fill="#e6dc32" stroke="#e6dc32" stroke-width="0.4"/>
<polygon points="360.3,365.3 369.9,365.0 376.7,367.8 380.2,371.2 380.9,379.5 379.5,387.7 376.7,394.6 371.2,398.7 360.3,400.4" fill="#e6af2d" stroke="#e6af2d" stroke-width="0.4"/>
<polygon points="415.9,363.3 413.8,367.1 407.0,371.9 400.8,376.7 395.3,383.6 390.5,391.8 387.0,402.0 385.7,407.2 386.1,412.7 390.5,421.0 397.4,426.5 404.2,430.6 412.5,433.3 422.1,432.0 437.2,425.4 437.2,363.3" fill="#00d28c" stroke="#00d28c" stroke-width="0.4"/>
<polygon points="425.5,363.3 424.8,366.4 419.3,369.8 412.5,374.0 406.3,378.8 400.8,385.0 396.0,393.2 392.5,402.0 392.5,408.6 397.4,416.8 407.0,421.0 418.0,423.7 427.6,421.0 437.2,416.2 437.2,363.3" fill="#00c8c8" stroke="#00c8c8" stroke-width="0.4"/>
<polygon points="437.2,368.1 429.0,371.2 424.1,374.0 418.0,377.4 411.8,382.2 406.3,387.7 401.5,394.6 398.0,402.0 397.6,410.0 400.1,416.8 408.3,418.9 418.0,416.8 426.2,412.7 437.2,406.5" fill="#00a0ff" stroke="#00a0ff" stroke-width="0.4"/>
<polygon points="437.2,379.7 430.3,380.8 424.8,382.2 419.3,385.0 413.2,389.8 408.3,396.0 402.2,402.4 405.6,405.8 411.1,409.7 422.1,407.9 429.0,404.5 437.2,396.9" fill="#1e3cff" stroke="#1e3cff" stroke-width="0.4"/>
<polygon points="410.4,402.0 415.9,402.0 415.9,403.4 410.4,403.4" fill="#a000c8" stroke="#a000c8" stroke-width="0.4"/>
<polygon points="360.3,420.3 371.2,421.6 380.9,425.1 390.5,429.2 398.7,433.3 404.2,440.2 360.3,440.2" fill="#a0e632" stroke="#a0e632" stroke-width="0.4"/>
<polygon points="360.3,427.8 371.2,429.9 380.9,433.3 387.7,440.2 360.3,440.2" fill="#e6dc32" stroke="#e6dc32" stroke-width="0.4"/>
</g>
<clipPath id="clipd5"><rect x="434" y="366" width="71.80" height="72.00"/></clipPath>
<g clip-path="url(#clipd5)">
<rect x="434" y="366" width="71.80" height="72.00" fill="#00c8c8"/>
<polygon points="494.5,363.3 497.2,370.1 508.2,374.2 508.2,363.3" fill="#00d28c" stroke="#00d28c" stroke-width="0.4"/>
<polygon points="447.1,391.4 450.5,401.7 454.6,414.1 460.1,425.1 466.3,440.2 431.3,440.2 431.3,418.9 439.5,405.8" fill="#00d28c" stroke="#00d28c" stroke-width="0.4"/>
<polygon points="441.6,440.2 446.4,432.6 453.2,430.6 459.4,432.0 463.5,440.2" fill="#00dc00" stroke="#00dc00" stroke-width="0.4"/>
<polygon points="431.3,371.2 442.2,370.5 450.5,368.5 453.9,363.3 475.2,363.3 479.3,369.8 486.2,376.7 493.1,382.9 498.6,382.9 508.2,375.6 508.2,413.4 500.0,418.2 494.5,425.1 490.3,433.3 487.6,440.2 473.8,440.2 470.4,430.6 466.3,423.7 463.5,412.7 462.9,404.5 458.7,399.0 453.2,392.1 450.5,385.2 446.4,381.1 443.6,386.6 442.2,396.2 438.1,404.5 431.3,409.3" fill="#00a0ff" stroke="#00a0ff" stroke-width="0.4"/>
<polygon points="431.3,380.4 437.4,385.2 439.5,390.7 436.7,397.6 431.3,401.0" fill="#1e3cff" stroke="#1e3cff" stroke-width="0.4"/>
<polygon points="455.3,385.9 459.4,379.1 470.4,378.4 475.2,381.8 482.1,386.6 493.1,391.4 498.6,388.7 508.2,383.2 508.2,406.5 498.6,410.0 491.7,416.8 486.9,425.1 483.5,429.2 478.0,425.1 471.1,419.6 468.4,411.3 467.7,403.1 463.5,397.6 458.7,392.1" fill="#1e3cff" stroke="#1e3cff" stroke-width="0.4"/>
<polygon points="473.8,417.5 479.3,410.0 486.2,402.4 493.1,397.6 500.0,401.0 502.7,403.1 494.5,408.6 489.0,412.7 486.2,418.2 484.2,425.1 482.1,427.8 476.6,422.3" fill="#8200dc" stroke="#8200dc" stroke-width="0.4"/>
<polygon points="467.0,386.6 471.8,386.6 471.8,389.4 467.0,389.4" fill="#a000c8" stroke="#a000c8" stroke-width="0.4"/>
</g>
<clipPath id="clipd6"><rect x="293.4" y="438" width="70.60" height="71.20"/></clipPath>
<g clip-path="url(#clipd6)">
<rect x="293.4" y="438" width="70.60" height="71.20" fill="#e6dc32"/>
<polygon points="305.7,435.3 334.6,435.3 330.5,439.1 323.6,440.5 315.4,441.8 309.9,439.1" fill="#a0e632" stroke="#a0e632" stroke-width="0.4"/>
<polygon points="289.3,444.2 298.9,435.3 302.3,446.2 300.9,455.9 303.0,462.7 299.6,471.0 296.1,479.2 289.3,484.0" fill="#a0e632" stroke="#a0e632" stroke-width="0.4"/>
<polygon points="289.3,435.3 300.9,435.3 296.1,441.2 289.3,442.1" fill="#00dc00" stroke="#00dc00" stroke-width="0.4"/>
<polygon points="289.3,457.2 298.2,463.4 289.3,468.9" fill="#00dc00" stroke="#00dc00" stroke-width="0.4"/>
<polygon points="302.3,447.6 307.1,446.2 311.2,451.7 307.1,455.9 303.7,453.1" fill="#e6af2d" stroke="#e6af2d" stroke-width="0.4"/>
<polygon points="339.4,446.2 344.9,451.1 351.1,455.2 356.6,458.6 366.2,461.6 366.2,483.3 356.6,477.8 349.7,472.4 344.2,467.5 338.7,466.2 332.5,471.0 328.4,468.9 331.2,460.0 335.3,451.7" fill="#e6af2d" stroke="#e6af2d" stroke-width="0.4"/>
<polygon points="362.1,463.4 366.2,462.5 366.2,469.9 362.3,468.9" fill="#f08228" stroke="#f08228" stroke-width="0.4"/>
<polygon points="289.3,485.4 298.2,482.0 300.9,475.8 304.4,469.3 311.2,470.7 317.4,477.2 319.5,483.3 314.7,488.2 310.5,495.0 304.4,499.1 298.9,501.9 298.2,512.2 289.3,512.2" fill="#e6af2d" stroke="#e6af2d" stroke-width="0.4"/>
<polygon points="303.7,477.2 307.8,475.8 310.5,479.2 307.8,484.7 305.1,483.3" fill="#f08228" stroke="#f08228" stroke-width="0.4"/>
<polygon points="314.7,462.7 317.4,461.4 318.8,464.1 316.0,464.8" fill="#a0e632" stroke="#a0e632" stroke-width="0.4"/>
<polygon points="300.9,512.2 307.1,502.9 314.0,497.4 321.5,493.2 327.0,486.8 333.2,482.2 340.1,479.9 347.0,482.0 353.8,485.4 366.2,489.5 366.2,512.2" fill="#a0e632" stroke="#a0e632" stroke-width="0.4"/>
<polygon points="366.2,441.0 358.0,444.9 355.9,448.3 360.7,451.1 366.2,452.0" fill="#a0e632" stroke="#a0e632" stroke-width="0.4"/>
</g>
<clipPath id="clipd7"><rect x="363" y="438" width="72.00" height="71.20"/></clipPath>
<g clip-path="url(#clipd7)">
<rect x="363" y="438" width="72.00" height="71.20" fill="#e6af2d"/>
<polygon points="360.3,456.5 369.9,453.1 378.1,449.7 386.4,447.6 393.2,449.7 400.1,454.5 408.3,457.9 418.0,459.3 427.6,460.0 437.2,458.3 437.2,435.3 360.3,435.3" fill="#e6dc32" stroke="#e6dc32" stroke-width="0.4"/>
<polygon points="386.4,435.3 397.4,441.4 404.2,444.9 411.1,449.7 418.0,453.1 426.2,455.2 437.2,452.8 437.2,435.3" fill="#a0e632" stroke="#a0e632" stroke-width="0.4"/>
<polygon points="360.3,442.1 367.1,444.9 360.3,450.4" fill="#a0e632" stroke="#a0e632" stroke-width="0.4"/>
<polygon points="407.0,435.3 413.8,443.5 420.7,447.6 427.6,449.7 437.2,447.3 437.2,435.3" fill="#00dc00" stroke="#00dc00" stroke-width="0.4"/>
<polygon points="422.1,435.3 427.6,440.7 437.2,442.4 437.2,435.3" fill="#00d28c" stroke="#00d28c" stroke-width="0.4"/>
<polygon points="363.7,464.1 370.6,461.4 376.7,459.3 382.2,462.7 385.7,470.3 390.5,477.8 393.2,485.4 396.0,494.3 399.4,502.6 402.2,512.2 380.2,512.2 383.6,495.7 378.8,486.8 373.3,479.9 367.8,474.4" fill="#f08228" stroke="#f08228" stroke-width="0.4"/>
<polygon points="404.9,465.5 409.0,463.4 418.0,464.8 423.5,467.1 428.3,464.1 437.2,461.6 437.2,494.6 429.0,491.9 422.1,493.2 416.6,497.4 411.4,501.2 405.9,495.7 404.2,486.1 404.6,475.1" fill="#f08228" stroke="#f08228" stroke-width="0.4"/>
<polygon points="419.1,478.9 422.8,475.8 426.5,479.2 422.8,482.2" fill="#fa3c3c" stroke="#fa3c3c" stroke-width="0.4"/>
<polygon points="360.3,482.7 369.2,486.1 376.1,493.0 378.4,496.4 374.7,503.3 371.2,512.2 360.3,512.2" fill="#e6dc32" stroke="#e6dc32" stroke-width="0.4"/>
<polygon points="360.3,488.2 367.1,490.9 370.6,495.0 367.1,499.8 360.3,502.6" fill="#a0e632" stroke="#a0e632" stroke-width="0.4"/>
<polygon points="413.8,512.2 420.7,502.6 425.5,499.1 434.0,496.8 437.2,496.4 437.2,512.2" fill="#e6dc32" stroke="#e6dc32" stroke-width="0.4"/>
<polygon points="417.3,512.2 423.5,506.0 429.0,502.6 437.2,499.8 437.2,512.2" fill="#a0e632" stroke="#a0e632" stroke-width="0.4"/>
<polygon points="422.1,512.2 429.0,506.7 437.2,503.7 437.2,512.2" fill="#00dc00" stroke="#00dc00" stroke-width="0.4"/>
<polygon points="426.9,512.2 434.0,507.4 437.2,506.7 437.2,512.2" fill="#00d28c" stroke="#00d28c" stroke-width="0.4"/>
</g>
<clipPath id="clipd8"><rect x="434" y="438" width="71.80" height="71.20"/></clipPath>
<g clip-path="url(#clipd8)">
<rect x="434" y="438" width="71.80" height="71.20" fill="#00dc00"/>
<polygon points="461.5,435.3 465.6,441.2 475.2,441.8 482.1,443.2 491.7,441.8 508.2,438.7 508.2,435.3" fill="#00d28c" stroke="#00d28c" stroke-width="0.4"/>
<polygon points="431.3,435.3 431.3,442.1 442.2,439.1 446.4,435.3" fill="#00d28c" stroke="#00d28c" stroke-width="0.4"/>
<polygon points="431.3,449.7 442.2,448.3 451.9,446.2 458.7,442.8 467.0,445.6 475.2,447.6 482.1,446.2 489.0,447.6 494.5,451.1 497.2,457.2 499.3,465.5 500.0,473.7 502.7,483.3 506.8,490.2 506.8,505.6 489.0,505.6 475.2,505.3 461.5,504.0 447.7,503.3 431.3,504.0" fill="#a0e632" stroke="#a0e632" stroke-width="0.4"/>
<polygon points="431.3,453.8 445.0,452.4 454.6,450.4 460.1,446.9 467.0,449.7 475.2,451.7 482.1,450.4 487.6,451.7 491.7,455.9 493.1,465.5 491.7,473.7 494.5,479.2 500.0,487.5 502.7,494.3 498.6,498.5 489.0,500.5 475.2,501.2 461.5,500.5 447.7,499.8 431.3,500.5" fill="#e6dc32" stroke="#e6dc32" stroke-width="0.4"/>
<polygon points="431.3,457.9 447.7,456.5 457.4,454.5 461.5,451.7 467.0,453.8 473.8,455.2 480.7,453.8 481.4,465.5 482.1,473.7 479.3,477.8 482.1,482.0 489.0,486.1 495.8,491.6 500.0,494.3 494.5,496.4 482.1,497.1 468.4,497.1 447.7,496.4 431.3,497.1" fill="#e6af2d" stroke="#e6af2d" stroke-width="0.4"/>
<polygon points="431.3,462.7 447.7,462.0 461.5,460.7 472.5,460.0 479.3,461.4 480.7,469.6 479.3,476.5 475.2,482.0 471.1,486.1 461.5,490.2 447.7,494.3 431.3,495.7" fill="#f08228" stroke="#f08228" stroke-width="0.4"/>
<polygon points="431.3,507.5 475.2,507.4 486.2,508.1 491.7,512.9 431.3,512.9" fill="#00d28c" stroke="#00d28c" stroke-width="0.4"/>
</g>
<clipPath id="cca"><rect x="20.4" y="22.9" width="209.60" height="211.40"/></clipPath>
<g clip-path="url(#cca)" fill="none" stroke="#000" stroke-width="0.9" stroke-linejoin="round">
<polyline points="20.4,28.5 23.6,27.8 25.7,25.0 26.4,23.0"/>
<polyline points="34.6,27.1 36.0,29.8"/>
<polyline points="36.7,34.7 38.1,37.4"/>
<polyline points="20.4,41.3 27.1,45.0 33.9,49.1 37.4,50.5 38.3,54.2 41.5,56.7 44.9,57.8 47.0,56.4 49.7,57.8 52.5,56.4 53.5,54.6 55.2,53.1 58.7,52.8 60.1,54.2"/>
<polyline points="53.5,54.6 54.8,57.0 56.6,57.4 56.2,60.1 58.7,62.2"/>
<polyline points="47.7,23.0 46.3,26.4 48.4,31.2 51.8,35.4 54.8,40.2 57.3,45.7 58.7,50.5 60.1,53.4"/>
<polyline points="60.1,54.2 58.7,57.0 59.0,61.1 61.2,65.6 64.9,70.7 67.8,75.7 68.0,79.4 70.0,82.2 70.8,78.7 71.7,76.2 73.8,77.3 74.6,81.7 73.3,85.6 71.5,84.5 73.3,87.2 76.8,89.2 82.1,88.6 86.2,87.2 90.9,83.5 94.0,81.5 96.1,77.6 97.4,73.9 98.8,70.7 100.2,74.3"/>
<polyline points="60.1,53.4 62.8,50.5 66.2,51.9 69.0,55.3 71.7,60.8 73.8,64.3 77.9,67.7 82.1,71.1 86.2,73.2 90.9,74.3 94.0,72.9 97.0,71.6 100.2,74.6 103.6,79.4 110.5,80.4 120.1,81.5 131.1,81.2 142.8,80.1 144.7,82.6 146.9,86.7 149.6,89.4 152.9,91.1 155.6,95.4 158.9,97.6 162.1,96.0 161.0,97.6 158.3,98.7 156.7,100.9 157.8,104.1 160.9,106.6 164.3,108.2 167.8,106.8 170.5,104.1 171.9,100.6 170.7,99.4 173.9,99.9 173.9,101.5 174.7,109.6 175.4,120.6 176.8,131.6 178.8,141.2 180.9,150.9 182.9,159.1 184.6,165.2 187.1,165.2 189.1,172.1 191.2,178.9 193.3,183.8 196.0,185.8 198.8,183.1 200.8,178.9 203.6,178.2 205.6,173.4 206.3,165.2 207.0,159.1 207.7,152.2 207.7,145.3 208.4,139.8 210.4,137.1 214.6,134.3 218.7,130.9 222.8,127.4 226.9,122.6 230.0,118.5"/>
<polyline points="100.2,74.3 97.8,78.7 98.4,82.8 100.6,87.2 103.9,90.4 108.0,93.0 108.4,93.0 112.6,99.2 110.5,105.4 108.4,110.9 105.0,112.3 104.3,117.8 100.2,120.6 96.7,124.7 94.0,128.1 89.9,131.6 90.9,131.3 83.4,133.2 80.0,135.0 77.2,139.1 72.4,142.6 66.9,145.3 62.8,148.1 57.3,150.9 51.8,152.2 48.4,148.8 47.0,145.3 45.6,144.2 44.9,146.7 46.3,149.5 44.9,151.5 41.5,155.0 36.4,157.5"/>
<polyline points="80.0,134.3 77.9,127.4 75.9,119.9"/>
<polyline points="20.4,112.3 24.3,119.2 28.4,126.8 32.6,134.3 33.2,142.6 34.6,152.2 36.4,157.5"/>
<polyline points="32.6,134.3 34.6,130.2 36.7,129.1 40.8,129.9"/>
<polyline points="20.4,139.8 22.9,144.0 26.4,148.1 29.8,152.2 32.6,155.7 34.6,158.4 32.6,160.5 30.5,163.2 29.1,165.2 27.1,165.2 29.1,167.9 32.6,165.9 34.6,166.8 39.4,170.7 46.3,171.4 53.2,169.3 60.1,167.9 65.6,165.9 70.0,164.5"/>
<polyline points="65.6,165.2 69.0,163.0 71.7,162.6 72.7,165.2 72.7,165.2 72.4,170.7 71.7,177.6 70.4,183.1 66.9,189.9 62.8,198.2 58.7,206.5 54.6,213.4 49.1,220.2 42.2,227.1 36.7,232.6 33.9,234.3"/>
<polyline points="34.6,166.8 33.9,172.1 36.7,177.6 42.2,181.7 50.4,185.8 56.6,187.2 50.4,194.1 46.3,201.0 43.6,205.1 38.1,205.8 32.6,208.5 28.4,210.6 22.9,209.9 20.4,210.6"/>
<polyline points="28.4,210.6 25.7,217.5 25.0,225.7 25.0,234.3"/>
<polyline points="82.8,159.4 84.8,158.3 87.6,158.8 87.3,160.2 84.1,160.5 82.8,159.4"/>
<polyline points="118.7,23.0 116.7,27.1 117.4,33.3 119.4,38.8 122.2,45.0 120.8,50.5 118.1,53.9 119.4,55.3 122.9,59.4 126.7,63.6 127.7,68.4 129.1,70.5 125.6,73.9 122.9,77.3 122.2,81.5"/>
<polyline points="118.1,53.9 125.6,55.3 133.9,54.6 139.4,53.9 142.8,50.5 144.2,46.4 149.0,44.3 153.1,42.2 157.3,38.1 159.3,34.7 161.9,32.6 163.0,28.5 165.1,25.0 166.4,23.0"/>
<polyline points="193.3,23.0 188.4,24.3 181.6,23.6 178.1,25.3 180.2,34.7 184.3,38.8 177.4,51.2 176.3,54.0 173.0,59.5 168.7,63.8 162.1,64.9 158.3,72.5 161.0,74.7 162.1,79.1 164.8,83.4 164.3,86.7 158.8,87.3 155.0,89.4 152.9,91.1"/>
<polyline points="199.4,23.0 201.5,30.5 200.1,37.4 202.9,43.6 208.4,49.1 212.5,51.9 218.7,55.3 224.2,59.4 230.0,61.5"/>
<polyline points="212.5,51.9 208.4,55.3 207.7,60.1 211.8,63.6 217.3,67.0 222.8,69.1 228.3,69.4 230.0,71.1"/>
<polyline points="207.0,176.2 210.4,178.9 213.9,184.4 215.9,190.6 214.6,196.1 210.4,198.9 207.0,197.5 205.6,191.3 205.2,183.1 206.3,178.2 207.0,176.2"/>
<circle cx="62.8" cy="50.2" r="0.7" fill="#1a1a1a" stroke="none"/>
<circle cx="190.5" cy="44.3" r="0.7" fill="#1a1a1a" stroke="none"/>
<circle cx="201.5" cy="30.5" r="0.7" fill="#1a1a1a" stroke="none"/>
<circle cx="212.5" cy="48.4" r="0.7" fill="#1a1a1a" stroke="none"/>
<circle cx="220.8" cy="43.6" r="0.7" fill="#1a1a1a" stroke="none"/>
<circle cx="185.7" cy="86.3" r="0.7" fill="#1a1a1a" stroke="none"/>
<circle cx="219.4" cy="88.4" r="0.7" fill="#1a1a1a" stroke="none"/>
<circle cx="29.1" cy="133.0" r="0.7" fill="#1a1a1a" stroke="none"/>
<circle cx="20.9" cy="139.8" r="0.7" fill="#1a1a1a" stroke="none"/>
<circle cx="76.6" cy="160.5" r="0.7" fill="#1a1a1a" stroke="none"/>
<circle cx="79.3" cy="160.5" r="0.7" fill="#1a1a1a" stroke="none"/>
<circle cx="222.8" cy="103.4" r="0.7" fill="#1a1a1a" stroke="none"/>
<circle cx="188.4" cy="142.6" r="0.7" fill="#1a1a1a" stroke="none"/>
<circle cx="214.6" cy="132.3" r="0.7" fill="#1a1a1a" stroke="none"/>
<circle cx="196.0" cy="162.6" r="0.7" fill="#1a1a1a" stroke="none"/>
<circle cx="170.6" cy="169.3" r="0.7" fill="#1a1a1a" stroke="none"/>
<circle cx="174.7" cy="185.1" r="0.7" fill="#1a1a1a" stroke="none"/>
<circle cx="174.7" cy="194.1" r="0.7" fill="#1a1a1a" stroke="none"/>
<circle cx="176.1" cy="214.7" r="0.7" fill="#1a1a1a" stroke="none"/>
</g>
<clipPath id="ccb"><rect x="291.1" y="24" width="209.50" height="211.30"/></clipPath>
<g clip-path="url(#ccb)" fill="none" stroke="#000" stroke-width="0.9" stroke-linejoin="round">
<polyline points="291.1,29.6 294.3,28.9 296.4,26.1 297.1,24.1"/>
<polyline points="305.3,28.2 306.7,30.9"/>
<polyline points="307.4,35.8 308.7,38.5"/>
<polyline points="291.1,42.4 297.7,46.1 304.6,50.2 308.1,51.6 309.0,55.3 312.2,57.8 315.6,58.9 317.7,57.5 320.4,58.9 323.2,57.5 324.1,55.7 325.9,54.2 329.4,53.9 330.7,55.3"/>
<polyline points="324.1,55.7 325.5,58.0 327.3,58.5 326.9,61.2 329.4,63.3"/>
<polyline points="318.4,24.1 317.0,27.5 319.1,32.3 322.5,36.4 325.5,41.3 328.0,46.8 329.4,51.6 330.7,54.5"/>
<polyline points="330.7,55.3 329.4,58.0 329.6,62.2 331.8,66.7 335.6,71.8 338.4,76.8 338.7,80.5 340.6,83.2 341.5,79.8 342.4,77.3 344.5,78.4 345.3,82.8 343.9,86.7 342.1,85.6 343.9,88.3 347.5,90.2 352.7,89.7 356.9,88.3 361.5,84.6 364.7,82.5 366.7,78.7 368.1,75.0 369.5,71.8 370.8,75.4"/>
<polyline points="330.7,54.5 333.5,51.6 336.9,53.0 339.7,56.4 342.4,61.9 344.5,65.3 348.6,68.8 352.7,72.2 356.9,74.3 361.5,75.4 364.7,74.0 367.7,72.6 370.8,75.7 374.3,80.5 381.2,81.4 390.8,82.5 401.8,82.3 413.5,81.2 415.4,83.7 417.6,87.8 420.3,90.5 423.6,92.2 426.3,96.5 429.6,98.7 432.8,97.1 431.7,98.7 429.0,99.8 427.4,102.0 428.5,105.1 431.6,107.6 435.0,109.2 438.5,107.8 441.2,105.1 442.6,101.7 441.4,100.5 444.6,101.0 444.6,102.6 445.3,110.6 446.0,121.6 447.4,132.6 449.4,142.3 451.5,151.9 453.6,160.1 455.2,166.2 457.7,166.2 459.7,173.1 461.8,180.0 463.9,184.8 466.6,186.8 469.4,184.1 471.4,180.0 474.2,179.3 476.2,174.5 476.9,166.2 477.6,160.1 478.3,153.3 478.3,146.4 479.0,140.9 481.1,138.1 485.2,135.4 489.3,131.9 493.4,128.5 497.6,123.7 500.6,119.6"/>
<polyline points="370.8,75.4 368.5,79.8 369.1,83.9 371.3,88.3 374.6,91.5 378.7,94.1 379.1,94.1 383.2,100.3 381.2,106.5 379.1,112.0 375.7,113.4 375.0,118.9 370.8,121.6 367.4,125.7 364.7,129.2 360.5,132.6 361.5,132.4 354.1,134.3 350.7,136.1 347.9,140.2 343.1,143.6 337.6,146.4 333.5,149.1 328.0,151.9 322.5,153.3 319.1,149.8 317.7,146.4 316.3,145.3 315.6,147.8 317.0,150.5 315.6,152.6 312.2,156.0 307.1,158.5"/>
<polyline points="350.7,135.4 348.6,128.5 346.5,120.9"/>
<polyline points="291.1,113.4 295.0,120.2 299.1,127.8 303.2,135.4 303.9,143.6 305.3,153.3 307.1,158.5"/>
<polyline points="303.2,135.4 305.3,131.3 307.4,130.1 311.5,131.0"/>
<polyline points="291.1,140.9 293.6,145.0 297.1,149.1 300.5,153.3 303.2,156.7 305.3,159.5 303.2,161.5 301.2,164.3 299.8,166.2 297.7,166.2 299.8,169.0 303.2,166.9 305.3,167.9 310.1,171.7 317.0,172.4 323.9,170.3 330.7,169.0 336.2,166.9 340.6,165.5"/>
<polyline points="336.2,166.2 339.7,164.0 342.4,163.6 343.4,166.2 343.4,166.2 343.1,171.7 342.4,178.6 341.0,184.1 337.6,191.0 333.5,199.2 329.4,207.5 325.2,214.4 319.7,221.2 312.9,228.1 307.4,233.6 304.6,235.3"/>
<polyline points="305.3,167.9 304.6,173.1 307.4,178.6 312.9,182.7 321.1,186.8 327.3,188.2 321.1,195.1 317.0,202.0 314.2,206.1 308.7,206.8 303.2,209.5 299.1,211.6 293.6,210.9 291.1,211.6"/>
<polyline points="299.1,211.6 296.4,218.5 295.7,226.7 295.7,235.3"/>
<polyline points="353.4,160.4 355.5,159.3 358.2,159.9 358.0,161.2 354.8,161.5 353.4,160.4"/>
<polyline points="389.4,24.1 387.3,28.2 388.0,34.4 390.1,39.9 392.8,46.1 391.5,51.6 388.7,55.0 390.1,56.4 393.5,60.5 397.4,64.7 398.3,69.5 399.7,71.5 396.3,75.0 393.5,78.4 392.8,82.5"/>
<polyline points="388.7,55.0 396.3,56.4 404.5,55.7 410.0,55.0 413.5,51.6 414.8,47.5 419.6,45.4 423.8,43.3 427.9,39.2 430.0,35.8 432.6,33.7 433.6,29.6 435.7,26.1 437.1,24.1"/>
<polyline points="463.9,24.1 459.1,25.4 452.2,24.7 448.8,26.4 450.8,35.8 454.9,39.9 448.1,52.3 447.0,55.0 443.7,60.6 439.4,64.9 432.8,66.0 429.0,73.6 431.7,75.8 432.8,80.2 435.5,84.5 435.0,87.8 429.5,88.4 425.7,90.5 423.6,92.2"/>
<polyline points="470.1,24.1 472.1,31.6 470.7,38.5 473.5,44.7 479.0,50.2 483.1,53.0 489.3,56.4 494.8,60.5 500.6,62.6"/>
<polyline points="483.1,53.0 479.0,56.4 478.3,61.2 482.4,64.7 487.9,68.1 493.4,70.2 498.9,70.4 500.6,72.2"/>
<polyline points="477.6,177.2 481.1,180.0 484.5,185.5 486.6,191.7 485.2,197.2 481.1,199.9 477.6,198.5 476.2,192.3 475.8,184.1 476.9,179.3 477.6,177.2"/>
<circle cx="333.5" cy="51.3" r="0.7" fill="#1a1a1a" stroke="none"/>
<circle cx="461.1" cy="45.4" r="0.7" fill="#1a1a1a" stroke="none"/>
<circle cx="472.1" cy="31.6" r="0.7" fill="#1a1a1a" stroke="none"/>
<circle cx="483.1" cy="49.5" r="0.7" fill="#1a1a1a" stroke="none"/>
<circle cx="491.4" cy="44.7" r="0.7" fill="#1a1a1a" stroke="none"/>
<circle cx="456.3" cy="87.4" r="0.7" fill="#1a1a1a" stroke="none"/>
<circle cx="490.0" cy="89.4" r="0.7" fill="#1a1a1a" stroke="none"/>
<circle cx="299.8" cy="134.0" r="0.7" fill="#1a1a1a" stroke="none"/>
<circle cx="291.6" cy="140.9" r="0.7" fill="#1a1a1a" stroke="none"/>
<circle cx="347.2" cy="161.5" r="0.7" fill="#1a1a1a" stroke="none"/>
<circle cx="350.0" cy="161.5" r="0.7" fill="#1a1a1a" stroke="none"/>
<circle cx="493.4" cy="104.4" r="0.7" fill="#1a1a1a" stroke="none"/>
<circle cx="459.1" cy="143.6" r="0.7" fill="#1a1a1a" stroke="none"/>
<circle cx="485.2" cy="133.3" r="0.7" fill="#1a1a1a" stroke="none"/>
<circle cx="466.6" cy="163.6" r="0.7" fill="#1a1a1a" stroke="none"/>
<circle cx="441.2" cy="170.3" r="0.7" fill="#1a1a1a" stroke="none"/>
<circle cx="445.3" cy="186.2" r="0.7" fill="#1a1a1a" stroke="none"/>
<circle cx="445.3" cy="195.1" r="0.7" fill="#1a1a1a" stroke="none"/>
<circle cx="446.7" cy="215.7" r="0.7" fill="#1a1a1a" stroke="none"/>
</g>
<clipPath id="ccc"><rect x="21.4" y="296.2" width="211.10" height="212.10"/></clipPath>
<g clip-path="url(#ccc)" fill="none" stroke="#000" stroke-width="0.9" stroke-linejoin="round">
<polyline points="21.4,301.8 24.6,301.1 26.7,298.3 27.4,296.3"/>
<polyline points="35.7,300.4 37.1,303.2"/>
<polyline points="37.8,308.0 39.2,310.8"/>
<polyline points="21.4,314.6 28.1,318.4 35.0,322.5 38.5,323.9 39.5,327.6 42.6,330.1 46.1,331.2 48.2,329.8 51.0,331.2 53.7,329.8 54.7,328.0 56.5,326.5 60.0,326.2 61.3,327.6"/>
<polyline points="54.7,328.0 56.1,330.4 57.9,330.8 57.5,333.6 60.0,335.6"/>
<polyline points="48.9,296.3 47.5,299.7 49.6,304.5 53.0,308.7 56.1,313.5 58.6,319.1 60.0,323.9 61.3,326.8"/>
<polyline points="61.3,327.6 60.0,330.4 60.2,334.5 62.4,339.1 66.2,344.2 69.1,349.2 69.4,352.9 71.3,355.7 72.1,352.2 73.1,349.7 75.2,350.8 76.0,355.2 74.6,359.1 72.8,358.0 74.6,360.8 78.2,362.7 83.5,362.1 87.7,360.8 92.4,357.0 95.5,355.0 97.6,351.1 99.0,347.4 100.4,344.2 101.8,347.8"/>
<polyline points="61.3,326.8 64.1,323.9 67.6,325.3 70.3,328.7 73.1,334.2 75.2,337.7 79.3,341.1 83.5,344.6 87.7,346.7 92.4,347.8 95.5,346.4 98.6,345.0 101.8,348.1 105.2,352.9 112.1,353.9 121.8,355.0 132.9,354.7 144.7,353.6 146.6,356.1 148.8,360.2 151.5,362.9 154.9,364.7 157.6,369.0 160.9,371.2 164.1,369.6 163.0,371.2 160.3,372.3 158.7,374.5 159.8,377.6 162.9,380.1 166.4,381.7 169.9,380.3 172.6,377.6 174.0,374.2 172.8,373.0 176.0,373.5 176.0,375.1 176.8,383.1 177.5,394.2 178.9,405.2 180.9,414.9 183.0,424.6 185.1,432.9 186.8,438.9 189.3,438.9 191.3,445.8 193.4,452.8 195.5,457.6 198.3,459.7 201.0,456.9 203.1,452.8 205.9,452.1 208.0,447.2 208.7,438.9 209.3,432.9 210.0,426.0 210.0,419.0 210.7,413.5 212.8,410.8 217.0,408.0 221.1,404.5 225.3,401.1 229.4,396.3 232.5,392.1"/>
<polyline points="101.8,347.8 99.4,352.2 100.0,356.3 102.2,360.8 105.5,363.9 109.6,366.6 110.1,366.6 114.2,372.8 112.1,379.0 110.1,384.5 106.6,385.9 105.9,391.4 101.8,394.2 98.3,398.3 95.5,401.8 91.4,405.2 92.4,405.0 84.9,406.9 81.4,408.7 78.7,412.8 73.8,416.3 68.3,419.0 64.1,421.8 58.6,424.6 53.0,426.0 49.6,422.5 48.2,419.0 46.8,417.9 46.1,420.4 47.5,423.2 46.1,425.3 42.6,428.7 37.5,431.2"/>
<polyline points="81.4,408.0 79.3,401.1 77.3,393.5"/>
<polyline points="21.4,385.9 25.3,392.8 29.5,400.4 33.6,408.0 34.3,416.3 35.7,426.0 37.5,431.2"/>
<polyline points="33.6,408.0 35.7,403.9 37.8,402.8 41.9,403.6"/>
<polyline points="21.4,413.5 23.9,417.7 27.4,421.8 30.9,426.0 33.6,429.4 35.7,432.2 33.6,434.2 31.6,437.0 30.2,438.9 28.1,438.9 30.2,441.7 33.6,439.6 35.7,440.6 40.6,444.5 47.5,445.2 54.4,443.1 61.3,441.7 66.9,439.6 71.3,438.2"/>
<polyline points="66.9,438.9 70.3,436.7 73.1,436.3 74.1,438.9 74.1,438.9 73.8,444.5 73.1,451.4 71.7,456.9 68.3,463.8 64.1,472.1 60.0,480.4 55.8,487.3 50.3,494.2 43.3,501.1 37.8,506.6 35.0,508.3"/>
<polyline points="35.7,440.6 35.0,445.8 37.8,451.4 43.3,455.5 51.6,459.7 57.9,461.0 51.6,467.9 47.5,474.9 44.7,479.0 39.2,479.7 33.6,482.4 29.5,484.5 23.9,483.8 21.4,484.5"/>
<polyline points="29.5,484.5 26.7,491.4 26.0,499.7 26.0,508.3"/>
<polyline points="84.2,433.1 86.3,432.0 89.0,432.6 88.8,434.0 85.6,434.2 84.2,433.1"/>
<polyline points="120.5,296.3 118.4,300.4 119.1,306.6 121.1,312.1 123.9,318.4 122.5,323.9 119.8,327.3 121.1,328.7 124.6,332.9 128.5,337.0 129.5,341.8 130.8,343.9 127.4,347.4 124.6,350.8 123.9,355.0"/>
<polyline points="119.8,327.3 127.4,328.7 135.7,328.0 141.2,327.3 144.7,323.9 146.1,319.7 150.9,317.7 155.1,315.6 159.2,311.5 161.3,308.0 163.9,305.9 165.0,301.8 167.1,298.3 168.5,296.3"/>
<polyline points="195.5,296.3 190.6,297.6 183.7,297.0 180.3,298.6 182.3,308.0 186.5,312.1 179.6,324.6 178.5,327.4 175.1,332.9 170.8,337.2 164.1,338.3 160.3,346.0 163.0,348.2 164.1,352.6 166.9,356.9 166.4,360.2 160.8,360.8 157.0,362.9 154.9,364.7"/>
<polyline points="201.7,296.3 203.8,303.9 202.4,310.8 205.2,317.0 210.7,322.5 214.9,325.3 221.1,328.7 226.7,332.9 232.5,334.9"/>
<polyline points="214.9,325.3 210.7,328.7 210.0,333.6 214.2,337.0 219.7,340.5 225.3,342.5 230.8,342.8 232.5,344.6"/>
<polyline points="209.3,450.0 212.8,452.8 216.3,458.3 218.3,464.5 217.0,470.0 212.8,472.8 209.3,471.4 208.0,465.2 207.5,456.9 208.7,452.1 209.3,450.0"/>
<circle cx="64.1" cy="323.6" r="0.7" fill="#1a1a1a" stroke="none"/>
<circle cx="192.7" cy="317.7" r="0.7" fill="#1a1a1a" stroke="none"/>
<circle cx="203.8" cy="303.9" r="0.7" fill="#1a1a1a" stroke="none"/>
<circle cx="214.9" cy="321.8" r="0.7" fill="#1a1a1a" stroke="none"/>
<circle cx="223.2" cy="317.0" r="0.7" fill="#1a1a1a" stroke="none"/>
<circle cx="187.9" cy="359.8" r="0.7" fill="#1a1a1a" stroke="none"/>
<circle cx="221.8" cy="361.9" r="0.7" fill="#1a1a1a" stroke="none"/>
<circle cx="30.2" cy="406.6" r="0.7" fill="#1a1a1a" stroke="none"/>
<circle cx="21.9" cy="413.5" r="0.7" fill="#1a1a1a" stroke="none"/>
<circle cx="78.0" cy="434.2" r="0.7" fill="#1a1a1a" stroke="none"/>
<circle cx="80.7" cy="434.2" r="0.7" fill="#1a1a1a" stroke="none"/>
<circle cx="225.3" cy="376.9" r="0.7" fill="#1a1a1a" stroke="none"/>
<circle cx="190.6" cy="416.3" r="0.7" fill="#1a1a1a" stroke="none"/>
<circle cx="217.0" cy="405.9" r="0.7" fill="#1a1a1a" stroke="none"/>
<circle cx="198.3" cy="436.3" r="0.7" fill="#1a1a1a" stroke="none"/>
<circle cx="172.6" cy="443.1" r="0.7" fill="#1a1a1a" stroke="none"/>
<circle cx="176.8" cy="459.0" r="0.7" fill="#1a1a1a" stroke="none"/>
<circle cx="176.8" cy="467.9" r="0.7" fill="#1a1a1a" stroke="none"/>
<circle cx="178.2" cy="488.7" r="0.7" fill="#1a1a1a" stroke="none"/>
</g>
<clipPath id="ccd"><rect x="293.4" y="295.9" width="212.40" height="213.30"/></clipPath>
<g clip-path="url(#ccd)" fill="none" stroke="#000" stroke-width="0.9" stroke-linejoin="round">
<polyline points="293.4,301.5 296.7,300.8 298.7,298.0 299.4,296.0"/>
<polyline points="307.8,300.1 309.2,302.9"/>
<polyline points="309.9,307.8 311.3,310.5"/>
<polyline points="293.4,314.4 300.1,318.2 307.1,322.4 310.6,323.7 311.6,327.5 314.8,330.0 318.3,331.1 320.3,329.7 323.1,331.1 325.9,329.7 326.9,327.9 328.7,326.4 332.2,326.1 333.6,327.5"/>
<polyline points="326.9,327.9 328.3,330.3 330.1,330.7 329.7,333.5 332.2,335.5"/>
<polyline points="321.0,296.0 319.7,299.4 321.7,304.3 325.2,308.5 328.3,313.3 330.8,318.9 332.2,323.7 333.6,326.7"/>
<polyline points="333.6,327.5 332.2,330.3 332.5,334.4 334.7,339.0 338.5,344.2 341.4,349.2 341.7,352.9 343.6,355.7 344.5,352.2 345.4,349.7 347.5,350.8 348.4,355.3 347.0,359.2 345.2,358.0 347.0,360.8 350.6,362.8 355.9,362.2 360.1,360.8 364.8,357.1 368.0,355.0 370.1,351.1 371.5,347.4 372.9,344.2 374.2,347.8"/>
<polyline points="333.6,326.7 336.4,323.7 339.9,325.1 342.6,328.6 345.4,334.2 347.5,337.6 351.7,341.1 355.9,344.6 360.1,346.7 364.8,347.8 368.0,346.4 371.0,345.0 374.2,348.0 377.7,352.9 384.7,353.9 394.5,355.0 405.6,354.7 417.5,353.6 419.4,356.1 421.6,360.3 424.3,363.0 427.7,364.7 430.4,369.1 433.8,371.3 437.0,369.7 435.9,371.3 433.2,372.4 431.6,374.6 432.7,377.8 435.8,380.3 439.3,381.9 442.8,380.5 445.5,377.8 447.0,374.3 445.8,373.1 449.0,373.6 449.0,375.3 449.7,383.3 450.4,394.4 451.8,405.6 453.9,415.3 456.0,425.0 458.1,433.3 459.8,439.4 462.3,439.4 464.4,446.4 466.5,453.3 468.6,458.2 471.4,460.3 474.1,457.5 476.2,453.3 479.0,452.6 481.1,447.8 481.8,439.4 482.5,433.3 483.2,426.4 483.2,419.4 483.9,413.9 486.0,411.1 490.2,408.3 494.3,404.9 498.5,401.4 502.7,396.5 505.8,392.4"/>
<polyline points="374.2,347.8 371.9,352.2 372.4,356.4 374.7,360.8 378.0,364.0 382.2,366.7 382.6,366.7 386.8,372.9 384.7,379.2 382.6,384.7 379.1,386.1 378.4,391.7 374.2,394.4 370.8,398.6 368.0,402.1 363.8,405.6 364.8,405.3 357.3,407.2 353.8,409.0 351.0,413.2 346.1,416.7 340.6,419.4 336.4,422.2 330.8,425.0 325.2,426.4 321.7,422.9 320.3,419.4 319.0,418.3 318.3,420.8 319.7,423.6 318.3,425.7 314.8,429.2 309.6,431.7"/>
<polyline points="353.8,408.3 351.7,401.4 349.6,393.7"/>
<polyline points="293.4,386.1 297.4,393.1 301.5,400.7 305.7,408.3 306.4,416.7 307.8,426.4 309.6,431.7"/>
<polyline points="305.7,408.3 307.8,404.2 309.9,403.1 314.1,403.9"/>
<polyline points="293.4,413.9 296.0,418.1 299.4,422.2 302.9,426.4 305.7,429.9 307.8,432.6 305.7,434.7 303.6,437.5 302.2,439.4 300.1,439.4 302.2,442.2 305.7,440.1 307.8,441.1 312.7,445.0 319.7,445.7 326.6,443.6 333.6,442.2 339.2,440.1 343.6,438.8"/>
<polyline points="339.2,439.4 342.6,437.2 345.4,436.8 346.4,439.4 346.4,439.4 346.1,445.0 345.4,451.9 344.0,457.5 340.6,464.4 336.4,472.8 332.2,481.1 328.0,488.1 322.4,495.0 315.5,502.0 309.9,507.5 307.1,509.2"/>
<polyline points="307.8,441.1 307.1,446.4 309.9,451.9 315.5,456.1 323.8,460.3 330.1,461.7 323.8,468.6 319.7,475.6 316.9,479.7 311.3,480.4 305.7,483.2 301.5,485.3 296.0,484.6 293.4,485.3"/>
<polyline points="301.5,485.3 298.7,492.2 298.0,500.6 298.0,509.2"/>
<polyline points="356.6,433.6 358.7,432.5 361.5,433.1 361.2,434.4 358.0,434.7 356.6,433.6"/>
<polyline points="393.1,296.0 391.0,300.1 391.7,306.4 393.8,311.9 396.5,318.2 395.2,323.7 392.4,327.2 393.8,328.6 397.2,332.8 401.1,336.9 402.1,341.8 403.5,343.9 400.0,347.4 397.2,350.8 396.5,355.0"/>
<polyline points="392.4,327.2 400.0,328.6 408.4,327.9 414.0,327.2 417.5,323.7 418.8,319.6 423.7,317.5 427.9,315.4 432.1,311.2 434.2,307.8 436.8,305.7 437.9,301.5 440.0,298.0 441.4,296.0"/>
<polyline points="468.6,296.0 463.7,297.4 456.7,296.7 453.2,298.3 455.3,307.8 459.5,311.9 452.5,324.4 451.4,327.2 448.1,332.8 443.7,337.1 437.0,338.3 433.2,345.9 435.9,348.2 437.0,352.6 439.8,357.0 439.3,360.3 433.7,360.9 429.8,363.0 427.7,364.7"/>
<polyline points="474.8,296.0 476.9,303.6 475.5,310.5 478.3,316.8 483.9,322.4 488.1,325.1 494.3,328.6 499.9,332.8 505.8,334.9"/>
<polyline points="488.1,325.1 483.9,328.6 483.2,333.5 487.4,336.9 493.0,340.4 498.5,342.5 504.1,342.8 505.8,344.6"/>
<polyline points="482.5,450.6 486.0,453.3 489.5,458.9 491.6,465.1 490.2,470.7 486.0,473.5 482.5,472.1 481.1,465.8 480.7,457.5 481.8,452.6 482.5,450.6"/>
<circle cx="336.4" cy="323.5" r="0.7" fill="#1a1a1a" stroke="none"/>
<circle cx="465.8" cy="317.5" r="0.7" fill="#1a1a1a" stroke="none"/>
<circle cx="476.9" cy="303.6" r="0.7" fill="#1a1a1a" stroke="none"/>
<circle cx="488.1" cy="321.7" r="0.7" fill="#1a1a1a" stroke="none"/>
<circle cx="496.4" cy="316.8" r="0.7" fill="#1a1a1a" stroke="none"/>
<circle cx="460.9" cy="359.9" r="0.7" fill="#1a1a1a" stroke="none"/>
<circle cx="495.0" cy="361.9" r="0.7" fill="#1a1a1a" stroke="none"/>
<circle cx="302.2" cy="406.9" r="0.7" fill="#1a1a1a" stroke="none"/>
<circle cx="293.9" cy="413.9" r="0.7" fill="#1a1a1a" stroke="none"/>
<circle cx="350.3" cy="434.7" r="0.7" fill="#1a1a1a" stroke="none"/>
<circle cx="353.1" cy="434.7" r="0.7" fill="#1a1a1a" stroke="none"/>
<circle cx="498.5" cy="377.1" r="0.7" fill="#1a1a1a" stroke="none"/>
<circle cx="463.7" cy="416.7" r="0.7" fill="#1a1a1a" stroke="none"/>
<circle cx="490.2" cy="406.2" r="0.7" fill="#1a1a1a" stroke="none"/>
<circle cx="471.4" cy="436.8" r="0.7" fill="#1a1a1a" stroke="none"/>
<circle cx="445.6" cy="443.6" r="0.7" fill="#1a1a1a" stroke="none"/>
<circle cx="449.7" cy="459.6" r="0.7" fill="#1a1a1a" stroke="none"/>
<circle cx="449.7" cy="468.6" r="0.7" fill="#1a1a1a" stroke="none"/>
<circle cx="451.1" cy="489.5" r="0.7" fill="#1a1a1a" stroke="none"/>
</g>
<rect x="20.4" y="22.9" width="209.60" height="211.40" fill="none" stroke="#3a3a3a" stroke-width="0.8"/>
<line x1="18.2" y1="234.3" x2="20.4" y2="234.3" stroke="#222" stroke-width="0.7"/>
<text x="7.8" y="237.2" textLength="9.0" lengthAdjust="spacingAndGlyphs" class="tk">EQ</text>
<line x1="18.2" y1="204.1" x2="20.4" y2="204.1" stroke="#222" stroke-width="0.7"/>
<text x="7.8" y="207.0" textLength="9.0" lengthAdjust="spacingAndGlyphs" class="tk">5N</text>
<line x1="18.2" y1="173.9" x2="20.4" y2="173.9" stroke="#222" stroke-width="0.7"/>
<text x="3.1" y="176.8" textLength="13.7" lengthAdjust="spacingAndGlyphs" class="tk">10N</text>
<line x1="18.2" y1="143.7" x2="20.4" y2="143.7" stroke="#222" stroke-width="0.7"/>
<text x="3.1" y="146.5" textLength="13.7" lengthAdjust="spacingAndGlyphs" class="tk">15N</text>
<line x1="18.2" y1="113.5" x2="20.4" y2="113.5" stroke="#222" stroke-width="0.7"/>
<text x="3.1" y="116.4" textLength="13.7" lengthAdjust="spacingAndGlyphs" class="tk">20N</text>
<line x1="18.2" y1="83.3" x2="20.4" y2="83.3" stroke="#222" stroke-width="0.7"/>
<text x="3.1" y="86.2" textLength="13.7" lengthAdjust="spacingAndGlyphs" class="tk">25N</text>
<line x1="18.2" y1="53.1" x2="20.4" y2="53.1" stroke="#222" stroke-width="0.7"/>
<text x="3.1" y="55.9" textLength="13.7" lengthAdjust="spacingAndGlyphs" class="tk">30N</text>
<line x1="18.2" y1="22.9" x2="20.4" y2="22.9" stroke="#222" stroke-width="0.7"/>
<text x="3.1" y="25.8" textLength="13.7" lengthAdjust="spacingAndGlyphs" class="tk">35N</text>
<line x1="20.4" y1="234.3" x2="20.4" y2="236.5" stroke="#222" stroke-width="0.7"/>
<text x="13.6" y="245.2" textLength="13.8" lengthAdjust="spacingAndGlyphs" class="tk">40E</text>
<line x1="43.7" y1="234.3" x2="43.7" y2="236.5" stroke="#222" stroke-width="0.7"/>
<text x="36.9" y="245.2" textLength="13.8" lengthAdjust="spacingAndGlyphs" class="tk">45E</text>
<line x1="67.0" y1="234.3" x2="67.0" y2="236.5" stroke="#222" stroke-width="0.7"/>
<text x="60.2" y="245.2" textLength="13.8" lengthAdjust="spacingAndGlyphs" class="tk">50E</text>
<line x1="90.3" y1="234.3" x2="90.3" y2="236.5" stroke="#222" stroke-width="0.7"/>
<text x="83.5" y="245.2" textLength="13.8" lengthAdjust="spacingAndGlyphs" class="tk">55E</text>
<line x1="113.6" y1="234.3" x2="113.6" y2="236.5" stroke="#222" stroke-width="0.7"/>
<text x="106.8" y="245.2" textLength="13.8" lengthAdjust="spacingAndGlyphs" class="tk">60E</text>
<line x1="136.8" y1="234.3" x2="136.8" y2="236.5" stroke="#222" stroke-width="0.7"/>
<text x="130.0" y="245.2" textLength="13.8" lengthAdjust="spacingAndGlyphs" class="tk">65E</text>
<line x1="160.1" y1="234.3" x2="160.1" y2="236.5" stroke="#222" stroke-width="0.7"/>
<text x="153.3" y="245.2" textLength="13.8" lengthAdjust="spacingAndGlyphs" class="tk">70E</text>
<line x1="183.4" y1="234.3" x2="183.4" y2="236.5" stroke="#222" stroke-width="0.7"/>
<text x="176.6" y="245.2" textLength="13.8" lengthAdjust="spacingAndGlyphs" class="tk">75E</text>
<line x1="206.7" y1="234.3" x2="206.7" y2="236.5" stroke="#222" stroke-width="0.7"/>
<text x="199.9" y="245.2" textLength="13.8" lengthAdjust="spacingAndGlyphs" class="tk">80E</text>
<line x1="230.0" y1="234.3" x2="230.0" y2="236.5" stroke="#222" stroke-width="0.7"/>
<text x="223.2" y="245.2" textLength="13.8" lengthAdjust="spacingAndGlyphs" class="tk">85E</text>
<rect x="291.1" y="24" width="209.50" height="211.30" fill="none" stroke="#3a3a3a" stroke-width="0.8"/>
<line x1="288.9" y1="235.3" x2="291.1" y2="235.3" stroke="#222" stroke-width="0.7"/>
<text x="278.5" y="238.2" textLength="9.0" lengthAdjust="spacingAndGlyphs" class="tk">EQ</text>
<line x1="288.9" y1="205.1" x2="291.1" y2="205.1" stroke="#222" stroke-width="0.7"/>
<text x="278.5" y="208.0" textLength="9.0" lengthAdjust="spacingAndGlyphs" class="tk">5N</text>
<line x1="288.9" y1="174.9" x2="291.1" y2="174.9" stroke="#222" stroke-width="0.7"/>
<text x="273.8" y="177.8" textLength="13.7" lengthAdjust="spacingAndGlyphs" class="tk">10N</text>
<line x1="288.9" y1="144.7" x2="291.1" y2="144.7" stroke="#222" stroke-width="0.7"/>
<text x="273.8" y="147.6" textLength="13.7" lengthAdjust="spacingAndGlyphs" class="tk">15N</text>
<line x1="288.9" y1="114.6" x2="291.1" y2="114.6" stroke="#222" stroke-width="0.7"/>
<text x="273.8" y="117.4" textLength="13.7" lengthAdjust="spacingAndGlyphs" class="tk">20N</text>
<line x1="288.9" y1="84.4" x2="291.1" y2="84.4" stroke="#222" stroke-width="0.7"/>
<text x="273.8" y="87.2" textLength="13.7" lengthAdjust="spacingAndGlyphs" class="tk">25N</text>
<line x1="288.9" y1="54.2" x2="291.1" y2="54.2" stroke="#222" stroke-width="0.7"/>
<text x="273.8" y="57.0" textLength="13.7" lengthAdjust="spacingAndGlyphs" class="tk">30N</text>
<line x1="288.9" y1="24.0" x2="291.1" y2="24.0" stroke="#222" stroke-width="0.7"/>
<text x="273.8" y="26.9" textLength="13.7" lengthAdjust="spacingAndGlyphs" class="tk">35N</text>
<line x1="291.1" y1="235.3" x2="291.1" y2="237.5" stroke="#222" stroke-width="0.7"/>
<text x="284.3" y="246.2" textLength="13.8" lengthAdjust="spacingAndGlyphs" class="tk">40E</text>
<line x1="314.4" y1="235.3" x2="314.4" y2="237.5" stroke="#222" stroke-width="0.7"/>
<text x="307.6" y="246.2" textLength="13.8" lengthAdjust="spacingAndGlyphs" class="tk">45E</text>
<line x1="337.7" y1="235.3" x2="337.7" y2="237.5" stroke="#222" stroke-width="0.7"/>
<text x="330.9" y="246.2" textLength="13.8" lengthAdjust="spacingAndGlyphs" class="tk">50E</text>
<line x1="360.9" y1="235.3" x2="360.9" y2="237.5" stroke="#222" stroke-width="0.7"/>
<text x="354.1" y="246.2" textLength="13.8" lengthAdjust="spacingAndGlyphs" class="tk">55E</text>
<line x1="384.2" y1="235.3" x2="384.2" y2="237.5" stroke="#222" stroke-width="0.7"/>
<text x="377.4" y="246.2" textLength="13.8" lengthAdjust="spacingAndGlyphs" class="tk">60E</text>
<line x1="407.5" y1="235.3" x2="407.5" y2="237.5" stroke="#222" stroke-width="0.7"/>
<text x="400.7" y="246.2" textLength="13.8" lengthAdjust="spacingAndGlyphs" class="tk">65E</text>
<line x1="430.8" y1="235.3" x2="430.8" y2="237.5" stroke="#222" stroke-width="0.7"/>
<text x="424.0" y="246.2" textLength="13.8" lengthAdjust="spacingAndGlyphs" class="tk">70E</text>
<line x1="454.0" y1="235.3" x2="454.0" y2="237.5" stroke="#222" stroke-width="0.7"/>
<text x="447.2" y="246.2" textLength="13.8" lengthAdjust="spacingAndGlyphs" class="tk">75E</text>
<line x1="477.3" y1="235.3" x2="477.3" y2="237.5" stroke="#222" stroke-width="0.7"/>
<text x="470.5" y="246.2" textLength="13.8" lengthAdjust="spacingAndGlyphs" class="tk">80E</text>
<line x1="500.6" y1="235.3" x2="500.6" y2="237.5" stroke="#222" stroke-width="0.7"/>
<text x="493.8" y="246.2" textLength="13.8" lengthAdjust="spacingAndGlyphs" class="tk">85E</text>
<rect x="21.4" y="296.2" width="211.10" height="212.10" fill="none" stroke="#3a3a3a" stroke-width="0.8"/>
<line x1="19.2" y1="508.3" x2="21.4" y2="508.3" stroke="#222" stroke-width="0.7"/>
<text x="8.8" y="511.2" textLength="9.0" lengthAdjust="spacingAndGlyphs" class="tk">EQ</text>
<line x1="19.2" y1="478.0" x2="21.4" y2="478.0" stroke="#222" stroke-width="0.7"/>
<text x="8.8" y="480.9" textLength="9.0" lengthAdjust="spacingAndGlyphs" class="tk">5N</text>
<line x1="19.2" y1="447.7" x2="21.4" y2="447.7" stroke="#222" stroke-width="0.7"/>
<text x="4.1" y="450.6" textLength="13.7" lengthAdjust="spacingAndGlyphs" class="tk">10N</text>
<line x1="19.2" y1="417.4" x2="21.4" y2="417.4" stroke="#222" stroke-width="0.7"/>
<text x="4.1" y="420.2" textLength="13.7" lengthAdjust="spacingAndGlyphs" class="tk">15N</text>
<line x1="19.2" y1="387.1" x2="21.4" y2="387.1" stroke="#222" stroke-width="0.7"/>
<text x="4.1" y="390.0" textLength="13.7" lengthAdjust="spacingAndGlyphs" class="tk">20N</text>
<line x1="19.2" y1="356.8" x2="21.4" y2="356.8" stroke="#222" stroke-width="0.7"/>
<text x="4.1" y="359.7" textLength="13.7" lengthAdjust="spacingAndGlyphs" class="tk">25N</text>
<line x1="19.2" y1="326.5" x2="21.4" y2="326.5" stroke="#222" stroke-width="0.7"/>
<text x="4.1" y="329.4" textLength="13.7" lengthAdjust="spacingAndGlyphs" class="tk">30N</text>
<line x1="19.2" y1="296.2" x2="21.4" y2="296.2" stroke="#222" stroke-width="0.7"/>
<text x="4.1" y="299.0" textLength="13.7" lengthAdjust="spacingAndGlyphs" class="tk">35N</text>
<line x1="21.4" y1="508.3" x2="21.4" y2="510.5" stroke="#222" stroke-width="0.7"/>
<text x="14.6" y="519.2" textLength="13.8" lengthAdjust="spacingAndGlyphs" class="tk">40E</text>
<line x1="44.9" y1="508.3" x2="44.9" y2="510.5" stroke="#222" stroke-width="0.7"/>
<text x="38.1" y="519.2" textLength="13.8" lengthAdjust="spacingAndGlyphs" class="tk">45E</text>
<line x1="68.3" y1="508.3" x2="68.3" y2="510.5" stroke="#222" stroke-width="0.7"/>
<text x="61.5" y="519.2" textLength="13.8" lengthAdjust="spacingAndGlyphs" class="tk">50E</text>
<line x1="91.8" y1="508.3" x2="91.8" y2="510.5" stroke="#222" stroke-width="0.7"/>
<text x="85.0" y="519.2" textLength="13.8" lengthAdjust="spacingAndGlyphs" class="tk">55E</text>
<line x1="115.2" y1="508.3" x2="115.2" y2="510.5" stroke="#222" stroke-width="0.7"/>
<text x="108.4" y="519.2" textLength="13.8" lengthAdjust="spacingAndGlyphs" class="tk">60E</text>
<line x1="138.7" y1="508.3" x2="138.7" y2="510.5" stroke="#222" stroke-width="0.7"/>
<text x="131.9" y="519.2" textLength="13.8" lengthAdjust="spacingAndGlyphs" class="tk">65E</text>
<line x1="162.1" y1="508.3" x2="162.1" y2="510.5" stroke="#222" stroke-width="0.7"/>
<text x="155.3" y="519.2" textLength="13.8" lengthAdjust="spacingAndGlyphs" class="tk">70E</text>
<line x1="185.6" y1="508.3" x2="185.6" y2="510.5" stroke="#222" stroke-width="0.7"/>
<text x="178.8" y="519.2" textLength="13.8" lengthAdjust="spacingAndGlyphs" class="tk">75E</text>
<line x1="209.0" y1="508.3" x2="209.0" y2="510.5" stroke="#222" stroke-width="0.7"/>
<text x="202.2" y="519.2" textLength="13.8" lengthAdjust="spacingAndGlyphs" class="tk">80E</text>
<line x1="232.5" y1="508.3" x2="232.5" y2="510.5" stroke="#222" stroke-width="0.7"/>
<text x="225.7" y="519.2" textLength="13.8" lengthAdjust="spacingAndGlyphs" class="tk">85E</text>
<rect x="293.4" y="295.9" width="212.40" height="213.30" fill="none" stroke="#3a3a3a" stroke-width="0.8"/>
<line x1="291.2" y1="509.2" x2="293.4" y2="509.2" stroke="#222" stroke-width="0.7"/>
<text x="280.8" y="512.0" textLength="9.0" lengthAdjust="spacingAndGlyphs" class="tk">EQ</text>
<line x1="291.2" y1="478.7" x2="293.4" y2="478.7" stroke="#222" stroke-width="0.7"/>
<text x="280.8" y="481.6" textLength="9.0" lengthAdjust="spacingAndGlyphs" class="tk">5N</text>
<line x1="291.2" y1="448.3" x2="293.4" y2="448.3" stroke="#222" stroke-width="0.7"/>
<text x="276.1" y="451.1" textLength="13.7" lengthAdjust="spacingAndGlyphs" class="tk">10N</text>
<line x1="291.2" y1="417.8" x2="293.4" y2="417.8" stroke="#222" stroke-width="0.7"/>
<text x="276.1" y="420.6" textLength="13.7" lengthAdjust="spacingAndGlyphs" class="tk">15N</text>
<line x1="291.2" y1="387.3" x2="293.4" y2="387.3" stroke="#222" stroke-width="0.7"/>
<text x="276.1" y="390.2" textLength="13.7" lengthAdjust="spacingAndGlyphs" class="tk">20N</text>
<line x1="291.2" y1="356.8" x2="293.4" y2="356.8" stroke="#222" stroke-width="0.7"/>
<text x="276.1" y="359.7" textLength="13.7" lengthAdjust="spacingAndGlyphs" class="tk">25N</text>
<line x1="291.2" y1="326.4" x2="293.4" y2="326.4" stroke="#222" stroke-width="0.7"/>
<text x="276.1" y="329.2" textLength="13.7" lengthAdjust="spacingAndGlyphs" class="tk">30N</text>
<line x1="291.2" y1="295.9" x2="293.4" y2="295.9" stroke="#222" stroke-width="0.7"/>
<text x="276.1" y="298.8" textLength="13.7" lengthAdjust="spacingAndGlyphs" class="tk">35N</text>
<line x1="293.4" y1="509.2" x2="293.4" y2="511.4" stroke="#222" stroke-width="0.7"/>
<text x="286.6" y="520.1" textLength="13.8" lengthAdjust="spacingAndGlyphs" class="tk">40E</text>
<line x1="317.0" y1="509.2" x2="317.0" y2="511.4" stroke="#222" stroke-width="0.7"/>
<text x="310.2" y="520.1" textLength="13.8" lengthAdjust="spacingAndGlyphs" class="tk">45E</text>
<line x1="340.6" y1="509.2" x2="340.6" y2="511.4" stroke="#222" stroke-width="0.7"/>
<text x="333.8" y="520.1" textLength="13.8" lengthAdjust="spacingAndGlyphs" class="tk">50E</text>
<line x1="364.2" y1="509.2" x2="364.2" y2="511.4" stroke="#222" stroke-width="0.7"/>
<text x="357.4" y="520.1" textLength="13.8" lengthAdjust="spacingAndGlyphs" class="tk">55E</text>
<line x1="387.8" y1="509.2" x2="387.8" y2="511.4" stroke="#222" stroke-width="0.7"/>
<text x="381.0" y="520.1" textLength="13.8" lengthAdjust="spacingAndGlyphs" class="tk">60E</text>
<line x1="411.4" y1="509.2" x2="411.4" y2="511.4" stroke="#222" stroke-width="0.7"/>
<text x="404.6" y="520.1" textLength="13.8" lengthAdjust="spacingAndGlyphs" class="tk">65E</text>
<line x1="435.0" y1="509.2" x2="435.0" y2="511.4" stroke="#222" stroke-width="0.7"/>
<text x="428.2" y="520.1" textLength="13.8" lengthAdjust="spacingAndGlyphs" class="tk">70E</text>
<line x1="458.6" y1="509.2" x2="458.6" y2="511.4" stroke="#222" stroke-width="0.7"/>
<text x="451.8" y="520.1" textLength="13.8" lengthAdjust="spacingAndGlyphs" class="tk">75E</text>
<line x1="482.2" y1="509.2" x2="482.2" y2="511.4" stroke="#222" stroke-width="0.7"/>
<text x="475.4" y="520.1" textLength="13.8" lengthAdjust="spacingAndGlyphs" class="tk">80E</text>
<line x1="505.8" y1="509.2" x2="505.8" y2="511.4" stroke="#222" stroke-width="0.7"/>
<text x="499.0" y="520.1" textLength="13.8" lengthAdjust="spacingAndGlyphs" class="tk">85E</text>
<text x="26.9" y="9.2" class="pl">(a)</text>
<text x="296.5" y="11.6" class="pl">(b)</text>
<text x="24.4" y="282.0" class="pl">(c)</text>
<text x="300.6" y="281.3" class="pl">(d)</text>
<polygon points="251.6,53.2 254.45,38.2 257.3,53.2" fill="#f00082" stroke="rgba(40,20,0,0.3)" stroke-width="0.3"/>
<rect x="251.6" y="53.20" width="5.70" height="15.07" fill="#fa3c3c" stroke="rgba(40,20,0,0.45)" stroke-width="0.4"/>
<rect x="251.6" y="68.27" width="5.70" height="15.07" fill="#f08228" stroke="rgba(40,20,0,0.45)" stroke-width="0.4"/>
<rect x="251.6" y="83.35" width="5.70" height="15.07" fill="#e6af2d" stroke="rgba(40,20,0,0.45)" stroke-width="0.4"/>
<rect x="251.6" y="98.42" width="5.70" height="15.07" fill="#e6dc32" stroke="rgba(40,20,0,0.45)" stroke-width="0.4"/>
<rect x="251.6" y="113.49" width="5.70" height="15.07" fill="#a0e632" stroke="rgba(40,20,0,0.45)" stroke-width="0.4"/>
<rect x="251.6" y="128.56" width="5.70" height="15.07" fill="#00dc00" stroke="rgba(40,20,0,0.45)" stroke-width="0.4"/>
<rect x="251.6" y="143.64" width="5.70" height="15.07" fill="#00d28c" stroke="rgba(40,20,0,0.45)" stroke-width="0.4"/>
<rect x="251.6" y="158.71" width="5.70" height="15.07" fill="#00c8c8" stroke="rgba(40,20,0,0.45)" stroke-width="0.4"/>
<rect x="251.6" y="173.78" width="5.70" height="15.07" fill="#00a0ff" stroke="rgba(40,20,0,0.45)" stroke-width="0.4"/>
<rect x="251.6" y="188.85" width="5.70" height="15.07" fill="#1e3cff" stroke="rgba(40,20,0,0.45)" stroke-width="0.4"/>
<rect x="251.6" y="203.93" width="5.70" height="15.07" fill="#8200dc" stroke="rgba(40,20,0,0.45)" stroke-width="0.4"/>
<polygon points="251.6,219.0 254.45,233.5 257.3,219.0" fill="#a000c8" stroke="rgba(40,20,0,0.3)" stroke-width="0.3"/>
<text x="259.9" y="55.1" class="cb">0</text>
<text x="259.9" y="70.2" class="cb">-5</text>
<text x="259.9" y="85.2" class="cb">-10</text>
<text x="259.9" y="100.3" class="cb">-15</text>
<text x="259.9" y="115.4" class="cb">-20</text>
<text x="259.9" y="130.5" class="cb">-25</text>
<text x="259.9" y="145.5" class="cb">-30</text>
<text x="259.9" y="160.6" class="cb">-35</text>
<text x="259.9" y="175.7" class="cb">-40</text>
<text x="259.9" y="190.8" class="cb">-45</text>
<text x="259.9" y="205.8" class="cb">-50</text>
<text x="259.9" y="220.9" class="cb">-55</text>
<polygon points="522.4,62.0 525.0999999999999,46.4 527.8,62.0" fill="#f00082" stroke="rgba(40,20,0,0.3)" stroke-width="0.3"/>
<rect x="522.4" y="62.00" width="5.40" height="15.14" fill="#fa3c3c" stroke="rgba(40,20,0,0.45)" stroke-width="0.4"/>
<rect x="522.4" y="77.14" width="5.40" height="15.14" fill="#f08228" stroke="rgba(40,20,0,0.45)" stroke-width="0.4"/>
<rect x="522.4" y="92.28" width="5.40" height="15.14" fill="#e6af2d" stroke="rgba(40,20,0,0.45)" stroke-width="0.4"/>
<rect x="522.4" y="107.42" width="5.40" height="15.14" fill="#e6dc32" stroke="rgba(40,20,0,0.45)" stroke-width="0.4"/>
<rect x="522.4" y="122.56" width="5.40" height="15.14" fill="#a0e632" stroke="rgba(40,20,0,0.45)" stroke-width="0.4"/>
<rect x="522.4" y="137.70" width="5.40" height="15.14" fill="#00d28c" stroke="rgba(40,20,0,0.45)" stroke-width="0.4"/>
<rect x="522.4" y="152.84" width="5.40" height="15.14" fill="#00c8c8" stroke="rgba(40,20,0,0.45)" stroke-width="0.4"/>
<rect x="522.4" y="167.98" width="5.40" height="15.14" fill="#00a0ff" stroke="rgba(40,20,0,0.45)" stroke-width="0.4"/>
<rect x="522.4" y="183.12" width="5.40" height="15.14" fill="#1e3cff" stroke="rgba(40,20,0,0.45)" stroke-width="0.4"/>
<rect x="522.4" y="198.26" width="5.40" height="15.14" fill="#8200dc" stroke="rgba(40,20,0,0.45)" stroke-width="0.4"/>
<polygon points="522.4,213.4 525.0999999999999,227.8 527.8,213.4" fill="#a000c8" stroke="rgba(40,20,0,0.3)" stroke-width="0.3"/>
<text x="530.4" y="63.9" class="cb">8</text>
<text x="530.4" y="79.0" class="cb">6</text>
<text x="530.4" y="94.2" class="cb">4</text>
<text x="530.4" y="109.3" class="cb">2</text>
<text x="530.4" y="124.5" class="cb">0</text>
<text x="530.4" y="139.6" class="cb">-2</text>
<text x="530.4" y="154.7" class="cb">-4</text>
<text x="530.4" y="169.9" class="cb">-6</text>
<text x="530.4" y="185.0" class="cb">-8</text>
<text x="530.4" y="200.2" class="cb">-10</text>
<text x="530.4" y="215.3" class="cb">-12</text>
<polygon points="254.3,334.2 257.05,318.4 259.8,334.2" fill="#f00082" stroke="rgba(40,20,0,0.3)" stroke-width="0.3"/>
<rect x="254.3" y="334.20" width="5.50" height="15.13" fill="#fa3c3c" stroke="rgba(40,20,0,0.45)" stroke-width="0.4"/>
<rect x="254.3" y="349.33" width="5.50" height="15.13" fill="#f08228" stroke="rgba(40,20,0,0.45)" stroke-width="0.4"/>
<rect x="254.3" y="364.46" width="5.50" height="15.13" fill="#e6af2d" stroke="rgba(40,20,0,0.45)" stroke-width="0.4"/>
<rect x="254.3" y="379.59" width="5.50" height="15.13" fill="#e6dc32" stroke="rgba(40,20,0,0.45)" stroke-width="0.4"/>
<rect x="254.3" y="394.72" width="5.50" height="15.13" fill="#a0e632" stroke="rgba(40,20,0,0.45)" stroke-width="0.4"/>
<rect x="254.3" y="409.85" width="5.50" height="15.13" fill="#00d28c" stroke="rgba(40,20,0,0.45)" stroke-width="0.4"/>
<rect x="254.3" y="424.98" width="5.50" height="15.13" fill="#00c8c8" stroke="rgba(40,20,0,0.45)" stroke-width="0.4"/>
<rect x="254.3" y="440.11" width="5.50" height="15.13" fill="#00a0ff" stroke="rgba(40,20,0,0.45)" stroke-width="0.4"/>
<rect x="254.3" y="455.24" width="5.50" height="15.13" fill="#1e3cff" stroke="rgba(40,20,0,0.45)" stroke-width="0.4"/>
<rect x="254.3" y="470.37" width="5.50" height="15.13" fill="#8200dc" stroke="rgba(40,20,0,0.45)" stroke-width="0.4"/>
<polygon points="254.3,485.5 257.05,500.4 259.8,485.5" fill="#a000c8" stroke="rgba(40,20,0,0.3)" stroke-width="0.3"/>
<text x="262.4" y="336.1" class="cb">5</text>
<text x="262.4" y="351.2" class="cb">0</text>
<text x="262.4" y="366.4" class="cb">-5</text>
<text x="262.4" y="381.5" class="cb">-10</text>
<text x="262.4" y="396.6" class="cb">-15</text>
<text x="262.4" y="411.8" class="cb">-20</text>
<text x="262.4" y="426.9" class="cb">-25</text>
<text x="262.4" y="442.0" class="cb">-30</text>
<text x="262.4" y="457.1" class="cb">-35</text>
<text x="262.4" y="472.3" class="cb">-40</text>
<text x="262.4" y="487.4" class="cb">-45</text>
<polygon points="528.4,326.3 531.05,311.0 533.7,326.3" fill="#f00082" stroke="rgba(40,20,0,0.3)" stroke-width="0.3"/>
<rect x="528.4" y="326.30" width="5.30" height="15.26" fill="#fa3c3c" stroke="rgba(40,20,0,0.45)" stroke-width="0.4"/>
<rect x="528.4" y="341.56" width="5.30" height="15.26" fill="#f08228" stroke="rgba(40,20,0,0.45)" stroke-width="0.4"/>
<rect x="528.4" y="356.83" width="5.30" height="15.26" fill="#e6af2d" stroke="rgba(40,20,0,0.45)" stroke-width="0.4"/>
<rect x="528.4" y="372.09" width="5.30" height="15.26" fill="#e6dc32" stroke="rgba(40,20,0,0.45)" stroke-width="0.4"/>
<rect x="528.4" y="387.35" width="5.30" height="15.26" fill="#a0e632" stroke="rgba(40,20,0,0.45)" stroke-width="0.4"/>
<rect x="528.4" y="402.62" width="5.30" height="15.26" fill="#00dc00" stroke="rgba(40,20,0,0.45)" stroke-width="0.4"/>
<rect x="528.4" y="417.88" width="5.30" height="15.26" fill="#00d28c" stroke="rgba(40,20,0,0.45)" stroke-width="0.4"/>
<rect x="528.4" y="433.15" width="5.30" height="15.26" fill="#00c8c8" stroke="rgba(40,20,0,0.45)" stroke-width="0.4"/>
<rect x="528.4" y="448.41" width="5.30" height="15.26" fill="#00a0ff" stroke="rgba(40,20,0,0.45)" stroke-width="0.4"/>
<rect x="528.4" y="463.67" width="5.30" height="15.26" fill="#1e3cff" stroke="rgba(40,20,0,0.45)" stroke-width="0.4"/>
<rect x="528.4" y="478.94" width="5.30" height="15.26" fill="#8200dc" stroke="rgba(40,20,0,0.45)" stroke-width="0.4"/>
<polygon points="528.4,494.2 531.05,509.0 533.7,494.2" fill="#a000c8" stroke="rgba(40,20,0,0.3)" stroke-width="0.3"/>
<text x="536.3" y="328.2" class="cb">12</text>
<text x="536.3" y="343.5" class="cb">10</text>
<text x="536.3" y="358.7" class="cb">8</text>
<text x="536.3" y="374.0" class="cb">6</text>
<text x="536.3" y="389.3" class="cb">4</text>
<text x="536.3" y="404.5" class="cb">2</text>
<text x="536.3" y="419.8" class="cb">0</text>
<text x="536.3" y="435.0" class="cb">-2</text>
<text x="536.3" y="450.3" class="cb">-4</text>
<text x="536.3" y="465.6" class="cb">-6</text>
<text x="536.3" y="480.8" class="cb">-8</text>
<text x="536.3" y="496.1" class="cb">-10</text>
</svg></body></html>
